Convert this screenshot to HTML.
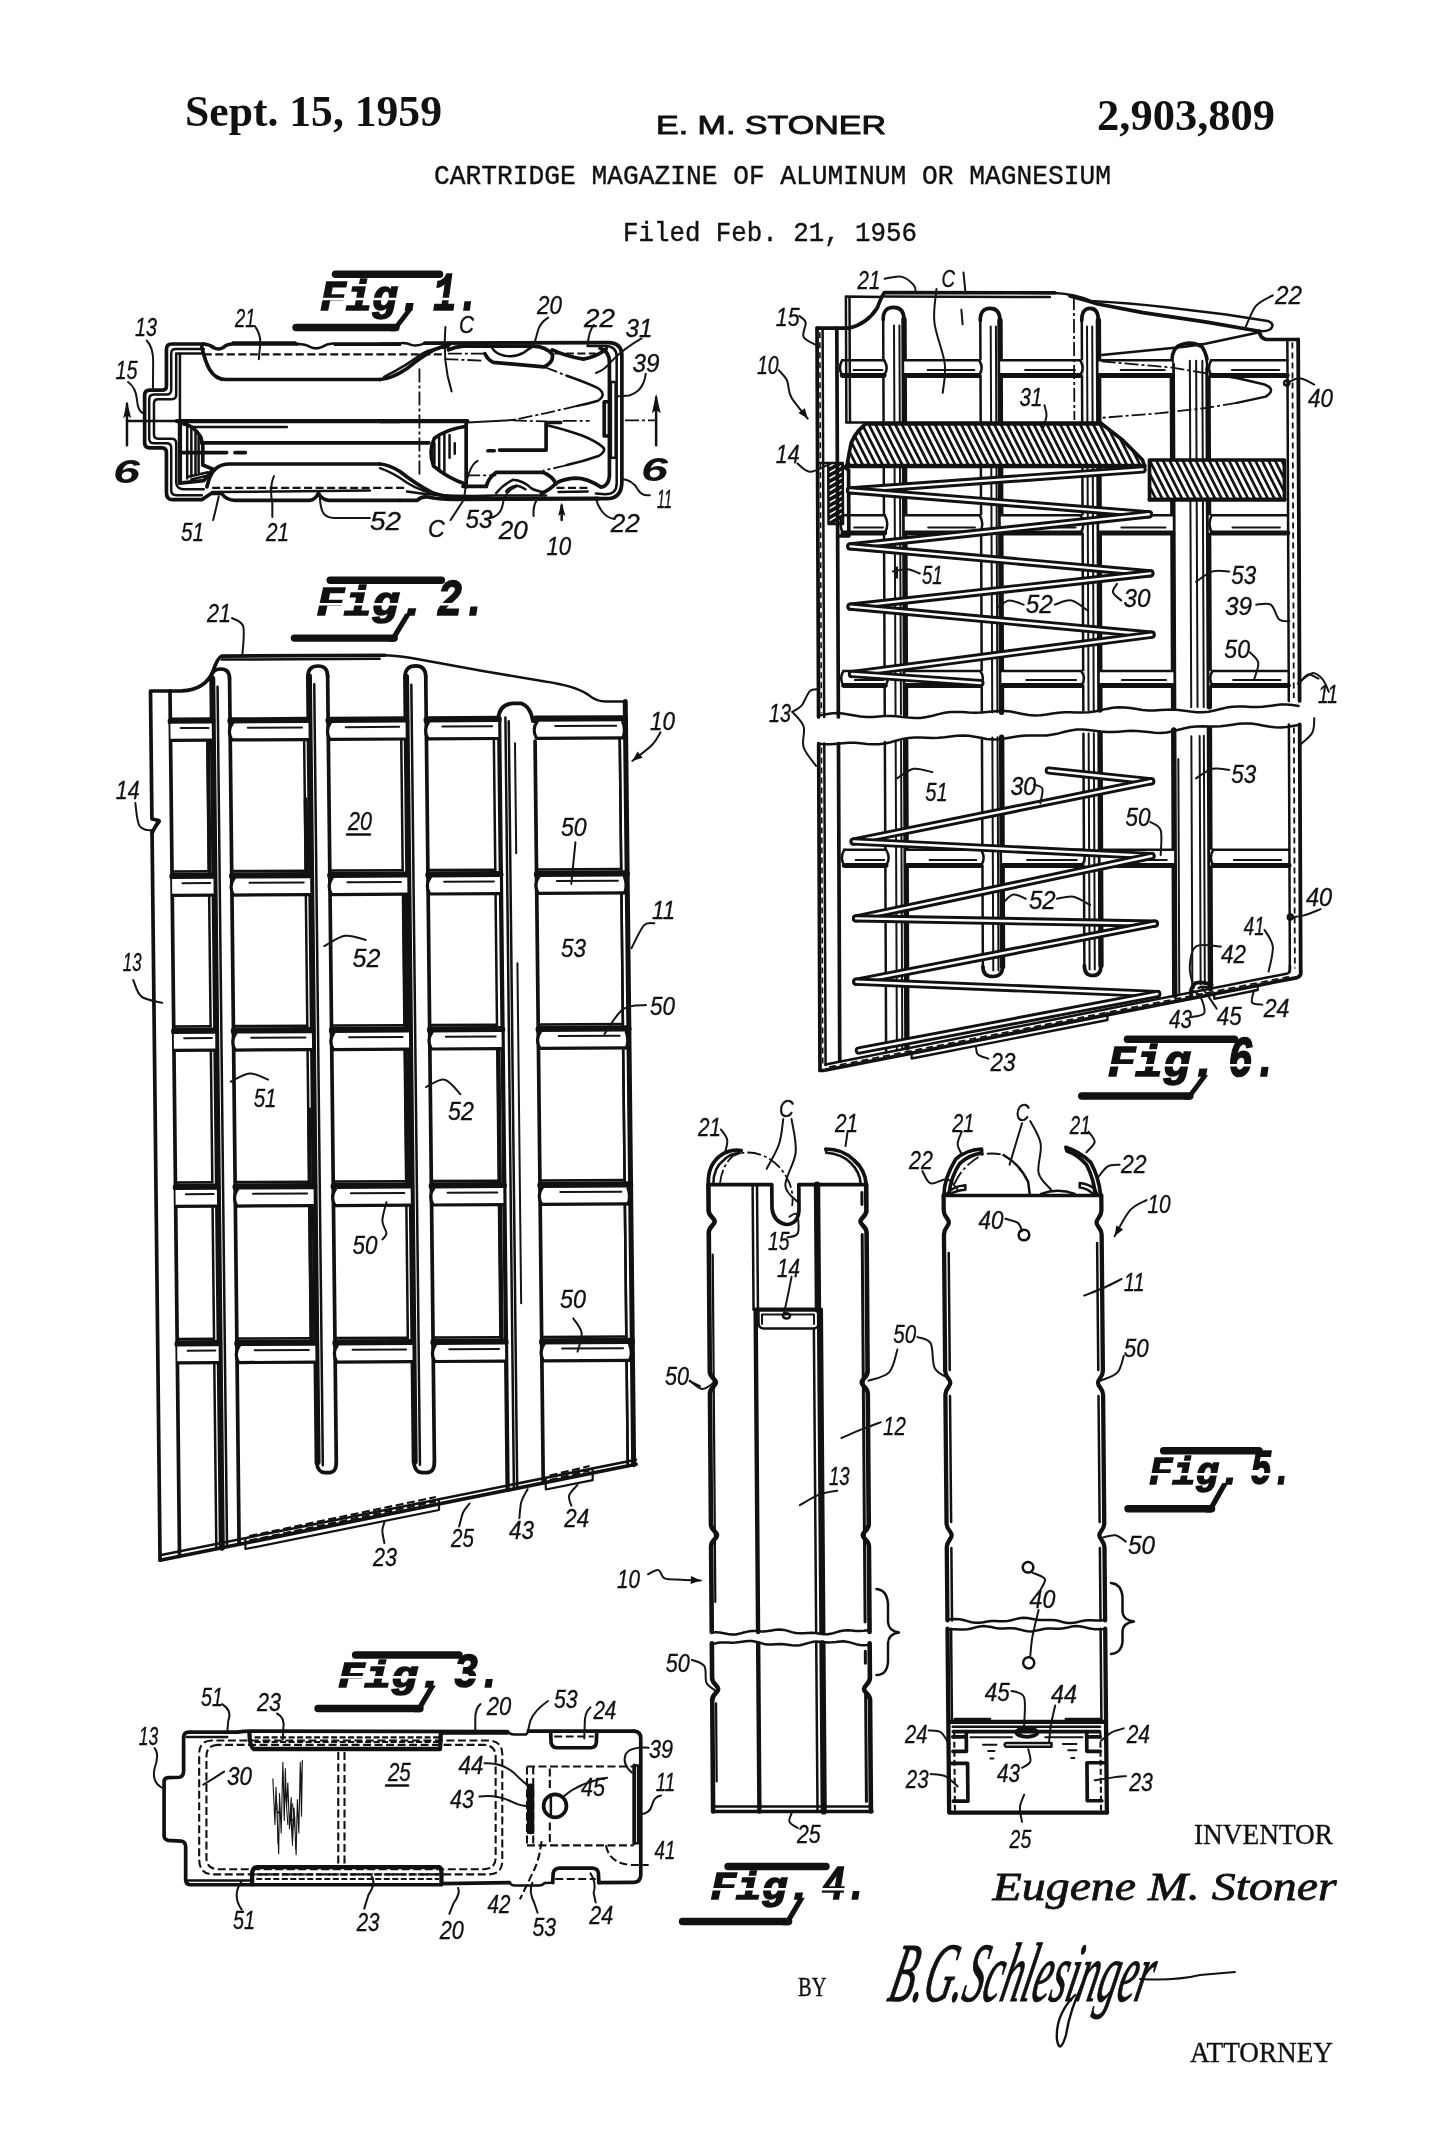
<!DOCTYPE html>
<html><head><meta charset="utf-8"><title>Patent 2,903,809</title>
<style>
html,body{margin:0;padding:0;background:#fff;}
svg{display:block;filter:grayscale(1)}
path,line,circle,ellipse,polyline{vector-effect:non-scaling-stroke}
.l{fill:none;stroke:#111;stroke-width:2.5;stroke-linecap:round;stroke-linejoin:round}
.t{fill:none;stroke:#111;stroke-width:3.7;stroke-linecap:round;stroke-linejoin:round}
.h{fill:none;stroke:#111;stroke-width:4.3;stroke-linecap:round;stroke-linejoin:round}
.f{fill:none;stroke:#151515;stroke-width:2.0;stroke-linecap:round;stroke-linejoin:round}
.d{fill:none;stroke:#111;stroke-width:2.1;stroke-dasharray:8 3.5}
.dd{fill:none;stroke:#111;stroke-width:1.8;stroke-dasharray:14 3 3 3}
.n{font-family:"Liberation Sans",sans-serif;font-style:italic;font-size:21px;fill:#111;stroke:#111;stroke-width:0.35px}
.fg{font-family:"Liberation Mono",monospace;font-style:italic;font-weight:bold;font-size:44px;fill:#111}
.b{fill:#111;stroke:none}
</style></head><body>
<svg width="1445" height="2145" viewBox="0 0 1445 2145">
<rect width="1445" height="2145" fill="#fff"/>
<g id="header" fill="#111">
<text x="185" y="126" font-family="'Liberation Serif',serif" font-weight="bold" font-size="45" textLength="257" lengthAdjust="spacingAndGlyphs">Sept. 15, 1959</text>
<text x="656" y="134" font-family="'Liberation Sans',sans-serif" font-size="25.5" textLength="230" lengthAdjust="spacingAndGlyphs" stroke="#111" stroke-width="0.9">E. M. STONER</text>
<text x="1097" y="129.500" font-family="'Liberation Serif',serif" font-weight="bold" font-size="45" textLength="178" lengthAdjust="spacingAndGlyphs">2,903,809</text>
<text x="434" y="184" font-family="'Liberation Mono',monospace" font-size="27" textLength="677" lengthAdjust="spacingAndGlyphs" stroke="#111" stroke-width="0.4">CARTRIDGE MAGAZINE OF ALUMINUM OR MAGNESIUM</text>
<text x="623" y="240.500" font-family="'Liberation Mono',monospace" font-size="27" textLength="294" lengthAdjust="spacingAndGlyphs" stroke="#111" stroke-width="0.4">Filed Feb. 21, 1956</text>
</g>

<g id="fig1">
<!-- left part, zoom coords Z1 -->
<g transform="translate(100,300) scale(0.207612)">
<path class="t" d="M500 212 L345 212 Q320 212 320 238 L320 415 Q320 434 298 434 L240 434 Q215 434 215 458 L215 688 Q215 712 240 712 L298 712 Q320 712 320 735 L320 928 Q320 962 352 962 L490 962 L535 932 L585 932 Q610 965 650 965 L1010 965 Q1040 960 1052 930 Q1065 960 1100 965 L1445 965"/>
<path class="t" d="M500 212 Q530 215 548 230 Q570 242 592 230 Q612 212 640 212 L950 212"/>
<path class="l" d="M950 212 Q990 212 1012 226 Q1040 240 1070 226 Q1092 212 1120 210 L1445 210"/>
<path class="l" d="M640 205 L940 205 M1130 216 L1445 216"/>
<path class="l" d="M500 236 L365 236 Q343 236 343 258 L343 432 Q343 455 320 455 L260 455 Q237 455 237 478 L237 668 Q237 690 260 690 L320 690 Q343 690 343 712 L343 915 Q343 940 368 940 L490 940"/>
<path class="l" d="M490 258 L367 258 L367 458 Q367 478 345 478 L280 478 Q260 478 260 498 L260 648 Q260 668 280 668 L345 668 Q367 668 367 690 L367 880 Q370 910 400 912 L500 912"/>
<path class="l" d="M385 262 L385 590"/>
<path class="h" d="M385 590 L385 882"/>
<path class="t" d="M490 225 C510 310 535 383 605 383 L1349 383"/>
<path class="d" d="M500 262 L1650 262"/>
<path class="l" d="M130 583 L370 583"/>
<path class="h" d="M370 583 L1445 583"/>
<path class="l" d="M440 612 L900 612"/>
<path class="t" d="M490 688 L1584 688"/>
<path class="t" d="M385 735 L610 735 M650 735 L700 735"/>
<path class="t" d="M515 900 C535 810 575 790 625 790 L1349 790"/>
<path class="d" d="M540 905 L1480 905"/>
<path class="l" d="M540 925 L1300 918"/>
<path class="t" d="M385 592 Q450 600 485 660 L495 700 L495 795 L545 815 L500 870 L385 882"/>
<path class="l" d="M420 610 L420 860 M440 620 L440 850 M460 640 L460 840 M475 660 L475 830 M430 850 L520 830 M440 865 L510 848"/>
<!-- arrows / section marks -->
<path class="l" d="M130 500 L130 700"/>
<path class="b" d="M130 488 L112 570 L130 555 L150 570Z"/>
<!-- leaders -->
<path class="f" d="M225 195 Q258 230 256 300 L255 430"/>
<path class="f" d="M135 395 Q172 420 178 480 Q182 540 213 548"/>
<path class="f" d="M745 125 Q780 170 770 230 L765 285"/>
<path class="f" d="M572 945 Q560 1000 545 1060"/>
<path class="f" d="M838 848 Q815 900 830 980 L830 1045"/>
<path class="f" d="M1058 935 Q1060 1000 1075 1025 Q1090 1050 1130 1050 L1300 1050"/>
</g>
<!-- right part Z2 -->
<g transform="translate(380,300) scale(0.207612)">
<path class="l" d="M0 211 L100 208 Q130 206 150 216 Q180 224 215 209"/>
<path class="t" d="M215 208 L1100 205 Q1165 205 1165 270 L1165 875 Q1165 957 1090 957 L1040 957"/>
<path class="h" d="M1050 957 L400 959"/>
<path class="t" d="M96 965 L180 965 Q200 944 230 949 Q300 964 400 959"/>
<path class="l" d="M1000 222 L1085 222 Q1140 222 1140 275 L1140 884 Q1140 936 1085 936 L1040 932"/>
<path class="t" d="M1060 232 Q1105 245 1105 300 L1105 850 Q1100 895 1065 902 Q1000 858 940 858 Q890 860 848 882 Q830 905 777 934"/>
<path class="t" d="M830 240 Q900 272 980 285 Q1050 270 1090 235"/>
<path class="d" d="M840 258 L1040 258 M850 905 L1010 905"/>
<path class="l" d="M860 925 L1000 922"/>
<path class="t" d="M330 240 Q360 225 400 222 L740 222 Q800 225 830 262 Q838 300 790 322 L545 300 Q520 290 505 258"/>
<path class="dd" d="M505 258 L310 258"/>
<path class="l" d="M540 232 Q560 262 600 268 Q650 278 690 255 Q715 235 740 222"/>
<path class="t" d="M512 898 Q520 860 560 830 L785 830 Q832 850 848 886"/>
<path class="t" d="M400 898 L512 898"/>
<path class="l" d="M560 930 Q592 890 640 866 Q690 870 728 906 Q750 920 790 925"/>
<path class="l" d="M608 922 Q624 900 656 894 Q680 898 700 912"/>
<path class="l" d="M130 922 Q300 950 560 942 L800 942"/>
<!-- cartridges -->
<path class="dd" d="M190 330 L190 850"/>
<path class="dd" d="M310 285 L500 292"/>
<path class="dd" d="M790 322 L900 365"/>
<path class="l" d="M900 365 Q1000 400 1050 425 Q1095 455 1050 485 Q1000 500 950 510"/>
<path class="dd" d="M950 510 L800 545 L640 578"/>
<path class="f" d="M420 590 L640 578"/>
<path class="t" d="M415 608 Q320 622 262 666 Q232 730 258 800 Q330 860 415 888"/>
<path class="t" d="M415 590 L415 900"/>
<path class="l" d="M262 690 L262 790 M285 660 L285 820 M310 645 L310 840 M335 650 L335 760 M360 690 L360 740"/>
<path class="t" d="M576 723 L800 723 L800 590 L870 590"/>
<path class="t" d="M520 726 L550 726"/>
<path class="l" d="M800 602 Q900 626 976 654 Q1040 680 1073 708 Q1092 726 1056 750 Q976 778 900 795"/>
<path class="dd" d="M900 795 L785 822"/>
<path class="dd" d="M415 845 L560 845"/>
<path class="f" d="M315 130 Q300 300 345 440"/>
<path class="f" d="M470 775 Q420 800 405 960 L340 1060"/>
<!-- centerline -->
<path class="h" d="M0 583 L420 583"/>
<path class="dd" d="M640 580 L800 585 M880 582 L1010 582"/>
<path class="dd" d="M1180 580 L1330 580"/>
<!-- 39 -->
<path class="l" d="M1112 395 L1135 395 L1135 760 L1112 760 Z"/>
<path class="t" d="M1100 490 L1080 490 L1080 655 L1100 655"/>
<path class="l" d="M1112 560 Q1095 575 1112 592"/>
<!-- lip 21 lower diag -->
<path class="t" d="M0 790 Q40 792 96 826 Q176 890 256 930 Q330 955 400 955"/>
<path class="l" d="M0 810 Q60 830 130 880 Q200 925 300 940"/>
<path class="t" d="M0 383 Q60 378 130 330 Q200 272 260 240 Q300 222 335 214"/>
<path class="l" d="M20 370 Q120 320 200 260 Q260 228 330 228"/>
<!-- arrow right -->
<path class="l" d="M1330 470 L1330 700"/>
<path class="b" d="M1330 452 L1310 545 L1330 530 L1352 545Z"/>
<!-- leaders -->
<path class="f" d="M810 85 Q770 110 760 150 L745 205"/>
<path class="f" d="M1030 120 Q1005 150 1000 222"/>
<path class="f" d="M1260 185 Q1180 230 1120 290 Q1080 340 1040 352"/>
<path class="f" d="M1280 355 Q1270 440 1200 460 L1135 465"/>
<path class="f" d="M1168 862 Q1220 870 1240 910 Q1260 945 1300 940"/>
<path class="f" d="M1040 955 Q1050 1000 1080 1030 Q1100 1050 1130 1055"/>
<path class="f" d="M740 1040 Q735 990 760 955"/>
<path class="f" d="M530 1050 Q580 1040 590 990 Q600 920 655 900"/>
<path class="l" d="M875 1060 L875 990"/>
<path class="b" d="M875 975 L858 1040 L875 1028 L893 1040Z"/>
</g>
</g>

<g id="fig2">
<g transform="matrix(1,-0.0054,0.011,1,-7.6,0.81)">
<path class="t" d="M150.5 1560.2 L150.5 691 L182 691 Q205 690 213 672 Q218 658 222 656.5 L385 656.5"/>
<path class="l" d="M385 656.5 Q400 657 420 661 L483 672.9 L545 683.6 Q575 688 588 697 Q596 704 606 704 L625 704"/>
<path class="l" d="M222 660 L380 660"/>
<path d="M146 818 L158 818 L158 830 L146 830Z" fill="#fff" stroke="none"/>
<path class="t" d="M150.5 819 L157.5 820.5 L152.5 829 L150.6 833"/>
<path class="h" d="M625.1 704 L625.1 1467.3" style="stroke-width:5"/>
<path class="l" d="M619.2 722 L619.2 1468.5"/>
<path class="t" d="M170 691 L170 1556.4"/>
<path class="h" d="M212.4 679.0 L212.4 1548.1" style="stroke-width:6"/>
<path class="l" d="M217.6 687.0 L217.6 1547.1"/>
<path class="t" d="M229.7 679.0 L229.7 1544.7"/>
<path class="t" d="M211.4 679.0 Q211.4 669.4 221.05 669.4 Q229.7 669.4 229.7 679.0"/>
<path class="h" d="M309.1 677.2 L309.1 1463.2" style="stroke-width:6"/>
<path class="l" d="M314.3 685.2 L314.3 1466.2"/>
<path class="t" d="M327.8 677.2 L327.8 1463.2"/>
<path class="t" d="M308.1 677.2 Q308.1 666.9 318.45000000000005 666.9 Q327.8 666.9 327.8 677.2"/>
<path class="t" d="M308.1 1463.2 Q309.1 1473.5 316.45000000000005 1473.5 L320.45000000000005 1473.5 Q327.8 1473.5 327.8 1463.2"/>
<path class="h" d="M406.2 678.2 L406.2 1463.2" style="stroke-width:6"/>
<path class="l" d="M411.4 686.2 L411.4 1466.2"/>
<path class="t" d="M425.9 678.2 L425.9 1463.2"/>
<path class="t" d="M405.2 678.2 Q405.2 667.4 416.04999999999995 667.4 Q425.9 667.4 425.9 678.2"/>
<path class="t" d="M405.2 1463.2 Q406.2 1474 414.04999999999995 1474 L418.04999999999995 1474 Q425.9 1474 425.9 1463.2"/>
<path class="h" d="M498.8 721.3 L498.8 1492.0"/>
<path class="l" d="M505.1 719.3 L505.1 1490.8"/>
<path class="l" d="M508.40000000000003 723.3 L508.40000000000003 1490.2"/>
<path class="f" d="M514.4 745.3 L514.4 855.3 M514.4 965.3 L514.4 1305.3"/>
<path class="t" d="M534.5 743.3 L534.5 1485.0"/>
<path class="t" d="M497.8 721.3 Q498.8 706.3 512.65 705.3 L520.65 705.3 Q530.5 708.3 532.5 723.3"/>
<path class="h" d="M171 721.4 L211.4 721.4" style="stroke-width:7.4"/>
<path d="M170 723.9 L170 740.4 L211.4 740.4 L211.4 723.9 Z" fill="#fff" stroke="none"/>
<path class="t" d="M170 740.4 L211.4 740.4" style="stroke-width:3.2"/>
<path class="f" d="M180.3 728.1999999999999 L208.1 728.1999999999999"/>
<path class="l" d="M171 871.5 L206.9 871.5"/>
<path class="l" d="M206.9 741.4 L206.9 871.5"/>
<path class="h" d="M171 876.5 L211.4 876.5" style="stroke-width:7.4"/>
<path d="M170 879.0 L170 895.5 L211.4 895.5 L211.4 879.0 Z" fill="#fff" stroke="none"/>
<path class="t" d="M170 895.5 L211.4 895.5" style="stroke-width:3.2"/>
<path class="f" d="M180.3 883.3 L208.1 883.3"/>
<path class="l" d="M171 1026.5 L206.9 1026.5"/>
<path class="l" d="M206.9 896.5 L206.9 1026.5"/>
<path class="h" d="M171 1031.5 L211.4 1031.5" style="stroke-width:7.4"/>
<path d="M170 1034.0 L170 1050.5 L211.4 1050.5 L211.4 1034.0 Z" fill="#fff" stroke="none"/>
<path class="t" d="M170 1050.5 L211.4 1050.5" style="stroke-width:3.2"/>
<path class="f" d="M180.3 1038.3 L208.1 1038.3"/>
<path class="l" d="M171 1182.5 L206.9 1182.5"/>
<path class="l" d="M206.9 1051.5 L206.9 1182.5"/>
<path class="h" d="M171 1187.5 L211.4 1187.5" style="stroke-width:7.4"/>
<path d="M170 1190.0 L170 1206.5 L211.4 1206.5 L211.4 1190.0 Z" fill="#fff" stroke="none"/>
<path class="t" d="M170 1206.5 L211.4 1206.5" style="stroke-width:3.2"/>
<path class="f" d="M180.3 1194.3 L208.1 1194.3"/>
<path class="l" d="M171 1339.0 L206.9 1339.0"/>
<path class="l" d="M206.9 1207.5 L206.9 1339.0"/>
<path class="h" d="M171 1344.0 L211.4 1344.0" style="stroke-width:7.4"/>
<path d="M170 1346.5 L170 1363.0 L211.4 1363.0 L211.4 1346.5 Z" fill="#fff" stroke="none"/>
<path class="t" d="M170 1363.0 L211.4 1363.0" style="stroke-width:3.2"/>
<path class="f" d="M180.3 1350.8 L208.1 1350.8"/>
<path class="l" d="M206.9 1364.0 L206.9 1549.2"/>
<path class="h" d="M230.7 721.4 L308.1 721.4" style="stroke-width:7.4"/>
<path d="M231.2 723.9 Q226.2 731.4 231.2 740.4 L308.1 740.4 L308.1 723.9 Z" fill="#fff" stroke="none"/>
<path class="t" d="M232.2 723.4 Q226.2 731.4 231.2 740.4 L308.1 740.4" style="stroke-width:3.2"/>
<path class="f" d="M247.4 728.1999999999999 L301.6 728.1999999999999"/>
<path class="l" d="M230.7 871.5 L303.6 871.5"/>
<path class="l" d="M303.6 741.4 L303.6 871.5"/>
<path class="h" d="M230.7 876.5 L308.1 876.5" style="stroke-width:7.4"/>
<path d="M231.2 879.0 Q226.2 886.5 231.2 895.5 L308.1 895.5 L308.1 879.0 Z" fill="#fff" stroke="none"/>
<path class="t" d="M232.2 878.5 Q226.2 886.5 231.2 895.5 L308.1 895.5" style="stroke-width:3.2"/>
<path class="f" d="M247.4 883.3 L301.6 883.3"/>
<path class="l" d="M230.7 1026.5 L303.6 1026.5"/>
<path class="l" d="M303.6 896.5 L303.6 1026.5"/>
<path class="h" d="M230.7 1031.5 L308.1 1031.5" style="stroke-width:7.4"/>
<path d="M231.2 1034.0 Q226.2 1041.5 231.2 1050.5 L308.1 1050.5 L308.1 1034.0 Z" fill="#fff" stroke="none"/>
<path class="t" d="M232.2 1033.5 Q226.2 1041.5 231.2 1050.5 L308.1 1050.5" style="stroke-width:3.2"/>
<path class="f" d="M247.4 1038.3 L301.6 1038.3"/>
<path class="l" d="M230.7 1182.5 L303.6 1182.5"/>
<path class="l" d="M303.6 1051.5 L303.6 1182.5"/>
<path class="h" d="M230.7 1187.5 L308.1 1187.5" style="stroke-width:7.4"/>
<path d="M231.2 1190.0 Q226.2 1197.5 231.2 1206.5 L308.1 1206.5 L308.1 1190.0 Z" fill="#fff" stroke="none"/>
<path class="t" d="M232.2 1189.5 Q226.2 1197.5 231.2 1206.5 L308.1 1206.5" style="stroke-width:3.2"/>
<path class="f" d="M247.4 1194.3 L301.6 1194.3"/>
<path class="l" d="M230.7 1339.0 L303.6 1339.0"/>
<path class="l" d="M303.6 1207.5 L303.6 1339.0"/>
<path class="h" d="M230.7 1344.0 L308.1 1344.0" style="stroke-width:7.4"/>
<path d="M231.2 1346.5 Q226.2 1354.0 231.2 1363.0 L308.1 1363.0 L308.1 1346.5 Z" fill="#fff" stroke="none"/>
<path class="t" d="M232.2 1346.0 Q226.2 1354.0 231.2 1363.0 L308.1 1363.0" style="stroke-width:3.2"/>
<path class="f" d="M247.4 1350.8 L301.6 1350.8"/>
<path class="h" d="M328.8 721.4 L405.2 721.4" style="stroke-width:7.4"/>
<path d="M329.3 723.9 Q324.3 731.4 329.3 740.4 L405.2 740.4 L405.2 723.9 Z" fill="#fff" stroke="none"/>
<path class="t" d="M330.3 723.4 Q324.3 731.4 329.3 740.4 L405.2 740.4" style="stroke-width:3.2"/>
<path class="f" d="M345.3 728.1999999999999 L398.8 728.1999999999999"/>
<path class="l" d="M328.8 871.5 L400.7 871.5"/>
<path class="l" d="M400.7 741.4 L400.7 871.5"/>
<path class="h" d="M328.8 876.5 L405.2 876.5" style="stroke-width:7.4"/>
<path d="M329.3 879.0 Q324.3 886.5 329.3 895.5 L405.2 895.5 L405.2 879.0 Z" fill="#fff" stroke="none"/>
<path class="t" d="M330.3 878.5 Q324.3 886.5 329.3 895.5 L405.2 895.5" style="stroke-width:3.2"/>
<path class="f" d="M345.3 883.3 L398.8 883.3"/>
<path class="l" d="M328.8 1026.5 L400.7 1026.5"/>
<path class="l" d="M400.7 896.5 L400.7 1026.5"/>
<path class="h" d="M328.8 1031.5 L405.2 1031.5" style="stroke-width:7.4"/>
<path d="M329.3 1034.0 Q324.3 1041.5 329.3 1050.5 L405.2 1050.5 L405.2 1034.0 Z" fill="#fff" stroke="none"/>
<path class="t" d="M330.3 1033.5 Q324.3 1041.5 329.3 1050.5 L405.2 1050.5" style="stroke-width:3.2"/>
<path class="f" d="M345.3 1038.3 L398.8 1038.3"/>
<path class="l" d="M328.8 1182.5 L400.7 1182.5"/>
<path class="l" d="M400.7 1051.5 L400.7 1182.5"/>
<path class="h" d="M328.8 1187.5 L405.2 1187.5" style="stroke-width:7.4"/>
<path d="M329.3 1190.0 Q324.3 1197.5 329.3 1206.5 L405.2 1206.5 L405.2 1190.0 Z" fill="#fff" stroke="none"/>
<path class="t" d="M330.3 1189.5 Q324.3 1197.5 329.3 1206.5 L405.2 1206.5" style="stroke-width:3.2"/>
<path class="f" d="M345.3 1194.3 L398.8 1194.3"/>
<path class="l" d="M328.8 1339.0 L400.7 1339.0"/>
<path class="l" d="M400.7 1207.5 L400.7 1339.0"/>
<path class="h" d="M328.8 1344.0 L405.2 1344.0" style="stroke-width:7.4"/>
<path d="M329.3 1346.5 Q324.3 1354.0 329.3 1363.0 L405.2 1363.0 L405.2 1346.5 Z" fill="#fff" stroke="none"/>
<path class="t" d="M330.3 1346.0 Q324.3 1354.0 329.3 1363.0 L405.2 1363.0" style="stroke-width:3.2"/>
<path class="f" d="M345.3 1350.8 L398.8 1350.8"/>
<path class="h" d="M426.9 721.4 L497.8 721.4" style="stroke-width:7.4"/>
<path d="M427.4 723.9 Q422.4 731.4 427.4 740.4 L497.8 740.4 L497.8 723.9 Z" fill="#fff" stroke="none"/>
<path class="t" d="M428.4 723.4 Q422.4 731.4 427.4 740.4 L497.8 740.4" style="stroke-width:3.2"/>
<path class="f" d="M442.0 728.1999999999999 L491.8 728.1999999999999"/>
<path class="l" d="M426.9 871.5 L493.3 871.5"/>
<path class="l" d="M493.3 741.4 L493.3 871.5"/>
<path class="h" d="M426.9 876.5 L497.8 876.5" style="stroke-width:7.4"/>
<path d="M427.4 879.0 Q422.4 886.5 427.4 895.5 L497.8 895.5 L497.8 879.0 Z" fill="#fff" stroke="none"/>
<path class="t" d="M428.4 878.5 Q422.4 886.5 427.4 895.5 L497.8 895.5" style="stroke-width:3.2"/>
<path class="f" d="M442.0 883.3 L491.8 883.3"/>
<path class="l" d="M426.9 1026.5 L493.3 1026.5"/>
<path class="l" d="M493.3 896.5 L493.3 1026.5"/>
<path class="h" d="M426.9 1031.5 L497.8 1031.5" style="stroke-width:7.4"/>
<path d="M427.4 1034.0 Q422.4 1041.5 427.4 1050.5 L497.8 1050.5 L497.8 1034.0 Z" fill="#fff" stroke="none"/>
<path class="t" d="M428.4 1033.5 Q422.4 1041.5 427.4 1050.5 L497.8 1050.5" style="stroke-width:3.2"/>
<path class="f" d="M442.0 1038.3 L491.8 1038.3"/>
<path class="l" d="M426.9 1182.5 L493.3 1182.5"/>
<path class="l" d="M493.3 1051.5 L493.3 1182.5"/>
<path class="h" d="M426.9 1187.5 L497.8 1187.5" style="stroke-width:7.4"/>
<path d="M427.4 1190.0 Q422.4 1197.5 427.4 1206.5 L497.8 1206.5 L497.8 1190.0 Z" fill="#fff" stroke="none"/>
<path class="t" d="M428.4 1189.5 Q422.4 1197.5 427.4 1206.5 L497.8 1206.5" style="stroke-width:3.2"/>
<path class="f" d="M442.0 1194.3 L491.8 1194.3"/>
<path class="l" d="M426.9 1339.0 L493.3 1339.0"/>
<path class="l" d="M493.3 1207.5 L493.3 1339.0"/>
<path class="h" d="M426.9 1344.0 L497.8 1344.0" style="stroke-width:7.4"/>
<path d="M427.4 1346.5 Q422.4 1354.0 427.4 1363.0 L497.8 1363.0 L497.8 1346.5 Z" fill="#fff" stroke="none"/>
<path class="t" d="M428.4 1346.0 Q422.4 1354.0 427.4 1363.0 L497.8 1363.0" style="stroke-width:3.2"/>
<path class="f" d="M442.0 1350.8 L491.8 1350.8"/>
<path class="h" d="M535.5 721.4 L624.1 721.4" style="stroke-width:7.4"/>
<path d="M536.0 723.9 Q531.0 731.4 536.0 740.4 L623.1 740.4 L623.1 723.9 Z" fill="#fff" stroke="none"/>
<path class="t" d="M537.0 723.4 Q531.0 731.4 536.0 740.4 L623.1 740.4" style="stroke-width:3.2"/>
<path class="l" d="M622.1 724.4 Q625.1 732.4 622.1 740.4"/>
<path class="f" d="M554.8 728.1999999999999 L615.8 728.1999999999999"/>
<path class="l" d="M535.5 871.5 L619.2 871.5"/>
<path class="l" d="M619.2 741.4 L619.2 871.5"/>
<path class="h" d="M535.5 876.5 L624.1 876.5" style="stroke-width:7.4"/>
<path d="M536.0 879.0 Q531.0 886.5 536.0 895.5 L623.1 895.5 L623.1 879.0 Z" fill="#fff" stroke="none"/>
<path class="t" d="M537.0 878.5 Q531.0 886.5 536.0 895.5 L623.1 895.5" style="stroke-width:3.2"/>
<path class="l" d="M622.1 879.5 Q625.1 887.5 622.1 895.5"/>
<path class="f" d="M554.8 883.3 L615.8 883.3"/>
<path class="l" d="M535.5 1026.5 L619.2 1026.5"/>
<path class="l" d="M619.2 896.5 L619.2 1026.5"/>
<path class="h" d="M535.5 1031.5 L624.1 1031.5" style="stroke-width:7.4"/>
<path d="M536.0 1034.0 Q531.0 1041.5 536.0 1050.5 L623.1 1050.5 L623.1 1034.0 Z" fill="#fff" stroke="none"/>
<path class="t" d="M537.0 1033.5 Q531.0 1041.5 536.0 1050.5 L623.1 1050.5" style="stroke-width:3.2"/>
<path class="l" d="M622.1 1034.5 Q625.1 1042.5 622.1 1050.5"/>
<path class="f" d="M554.8 1038.3 L615.8 1038.3"/>
<path class="l" d="M535.5 1182.5 L619.2 1182.5"/>
<path class="l" d="M619.2 1051.5 L619.2 1182.5"/>
<path class="h" d="M535.5 1187.5 L624.1 1187.5" style="stroke-width:7.4"/>
<path d="M536.0 1190.0 Q531.0 1197.5 536.0 1206.5 L623.1 1206.5 L623.1 1190.0 Z" fill="#fff" stroke="none"/>
<path class="t" d="M537.0 1189.5 Q531.0 1197.5 536.0 1206.5 L623.1 1206.5" style="stroke-width:3.2"/>
<path class="l" d="M622.1 1190.5 Q625.1 1198.5 622.1 1206.5"/>
<path class="f" d="M554.8 1194.3 L615.8 1194.3"/>
<path class="l" d="M535.5 1339.0 L619.2 1339.0"/>
<path class="l" d="M619.2 1207.5 L619.2 1339.0"/>
<path class="h" d="M535.5 1344.0 L624.1 1344.0" style="stroke-width:7.4"/>
<path d="M536.0 1346.5 Q531.0 1354.0 536.0 1363.0 L623.1 1363.0 L623.1 1346.5 Z" fill="#fff" stroke="none"/>
<path class="t" d="M537.0 1346.0 Q531.0 1354.0 536.0 1363.0 L623.1 1363.0" style="stroke-width:3.2"/>
<path class="l" d="M622.1 1347.0 Q625.1 1355.0 622.1 1363.0"/>
<path class="f" d="M554.8 1350.8 L615.8 1350.8"/>
<path class="l" d="M619.2 1364.0 L619.2 1468.5"/>
<path class="t" d="M304.5 1110 L304.5 1183" style="stroke-width:4"/>
<path class="t" d="M304.5 800 L304.5 872" style="stroke-width:4"/>
<path class="t" d="M207.5 742 L207.5 872" style="stroke-width:4"/>
<path class="t" d="M401.8 1052 L401.8 1183" style="stroke-width:4"/>
<path class="t" d="M494.5 1208 L494.5 1340" style="stroke-width:4"/>
<path class="t" d="M494.5 1052 L494.5 1183" style="stroke-width:4"/>
<path class="t" d="M401.8 897 L401.8 1027" style="stroke-width:4"/>
<path class="t" d="M304.5 1208 L304.5 1340" style="stroke-width:4"/>
<path class="t" d="M150.5 1560.2 L627.5 1466.8"/>
<path class="l" d="M150.5 1555.2 L627.5 1462.3"/>
<path class="t" d="M236 1539.5 L236 1549.5 L430 1511.5 L430 1501.5" style="stroke-width:2.2"/>
<path class="d" d="M240 1536.5 L427 1498.5"/>
<path class="d" d="M240 1541.0 L427 1503.0"/>
<path class="t" d="M537 1480.6 L537 1491.6 L584 1482.4 L584 1471.4" style="stroke-width:2.2"/>
<path class="d" d="M541 1477.6 L581 1468.4"/>
<path class="d" d="M541 1482.1 L581 1472.9"/>
</g>
</g>

<g id="fig3">
<g transform="translate(140,1700) scale(0.207612)">
<!-- outer outline (in T3a coords; T3b px = T3a px - 1348.8) -->
<path class="t" d="M2380 150 Q2412 152 2412 185 L2412 845 Q2410 878 2380 878 L2210 880 M1452 884 L1780 880 M1450 890 L240 890 Q222 888 220 868 L220 705 Q218 682 198 680 L135 676 Q117 672 116 655 L116 392 Q117 376 135 374 L190 372 Q208 368 210 345 L210 178 Q212 156 235 155 L470 155"/>
<path class="t" d="M470 155 Q500 150 530 150 L1770 152 M1870 150 L2380 150"/>
<path class="l" d="M1770 152 Q1782 165 1800 166 L1860 166 Q1868 152 1880 150"/>
<path class="l" d="M1780 880 Q1790 893 1805 893 L1925 893 Q1940 892 1948 882 L1990 880"/>
<path class="l" d="M232 870 L540 870 M225 178 L420 178"/>
<!-- tab 23 top -->
<path class="h" d="M527 158 Q528 225 548 236 L1445 236 Q1448 200 1449 158"/>
<path class="d" style="stroke-dasharray:6 2.5" d="M552 180 L1440 180 M552 202 L1440 202"/>
<!-- tab 23 bottom -->
<path class="h" d="M540 888 L540 830 Q545 806 565 805 L1440 805 Q1452 808 1452 830 L1452 888"/>
<path class="d" style="stroke-dasharray:6 2.5" d="M560 840 L1440 840 M560 862 L1440 862"/>
<path class="t" d="M1450 158 L1770 158"/>
<!-- dashed spring outline 30 -->
<path class="d" d="M345 195 Q285 197 285 260 L285 770 Q287 838 350 840 L1680 840 Q1745 838 1745 775 L1745 260 Q1743 197 1680 195 Z"/>
<path class="d" d="M375 216 Q320 218 320 270 L320 762 Q322 814 375 815 L1655 815 Q1712 814 1713 762 L1713 270 Q1712 218 1655 216 Z"/>
<path class="d" d="M955 250 L955 800 M985 250 L985 800"/>
<!-- scribble -->
<path class="f" style="stroke-width:1.1" d="M640 380 L650 600 L655 420 L668 740 L672 450 L680 640 L688 300 L695 580 L700 330 L706 520 L712 400 L720 620 L728 470 L735 680 L742 520 L752 745 L758 480 L765 640 L772 300 L778 560 L782 290 L776 420 M660 500 L664 690 M690 350 L694 560 M725 540 L735 700 M745 560 L750 720 M700 430 L712 600 M735 500 L748 640 M655 520 L676 560 M725 560 L745 590"/>
<!-- 30 leader -->
<path class="f" d="M405 345 Q360 375 305 408"/>
<!-- dashed rect 41 -->
<path class="d" d="M1864 320 L2378 320 M1864 700 L2378 700 M1864 320 L1864 700 M1894 320 L1894 700 M1974 330 L1974 440 M1974 590 L1974 700"/>
<path class="h" d="M1881 410 L1881 640" style="stroke-width:3.4"/>
<path class="l" d="M1869 410 L1893 410 L1893 640 L1869 640Z"/>
<circle cx="1999" cy="510" r="55" class="t"/>
<path class="l" d="M1979 462 L1979 558"/>
<path class="l" d="M2379 315 L2400 315 L2400 690 L2379 690Z"/>
<path class="t" d="M2381 315 L2381 690"/>
<!-- tabs 24 -->
<path class="t" d="M1978 155 L1980 205 Q1985 230 2010 230 L2170 230 Q2196 228 2198 205 L2200 155"/>
<path class="d" d="M1995 176 L2185 176"/>
<path class="t" d="M1988 880 L1990 835 Q1995 810 2020 810 L2180 810 Q2206 812 2208 835 L2210 880"/>
<path class="d" d="M2000 862 L2195 862"/>
<!-- 41 dashed arc, 42 dashed line -->
<path class="d" d="M2244 700 Q2262 790 2370 795 L2450 795"/>
<path class="d" d="M1934 680 Q1925 760 1900 815 L1830 960"/>
<!-- leaders -->
<path class="f" d="M70 232 Q95 260 70 330 Q55 400 112 425"/>
<path class="f" d="M395 20 Q445 50 425 100 L420 160"/>
<path class="f" d="M660 65 Q700 85 690 140 L688 190"/>
<path class="f" d="M1640 20 Q1615 40 1615 90 L1615 150"/>
<path class="f" d="M1965 5 Q1900 50 1880 100 Q1872 135 1868 152"/>
<path class="f" d="M2170 35 Q2140 60 2142 120 L2140 185"/>
<path class="f" d="M2450 230 Q2360 225 2340 260 Q2320 310 2370 350"/>
<path class="f" d="M2510 460 Q2475 465 2465 510 Q2455 545 2415 550"/>
<path class="f" d="M1660 305 Q1740 300 1800 350 Q1840 390 1868 412"/>
<path class="f" d="M1635 465 Q1720 455 1790 490 Q1830 510 1868 512"/>
<path class="f" d="M2250 375 Q2120 395 2040 465"/>
<path class="f" d="M492 870 Q440 940 490 1010"/>
<path class="f" d="M1115 850 Q1140 880 1100 940 L1080 1005"/>
<path class="f" d="M1532 905 Q1545 930 1510 980 L1490 1030"/>
<path class="f" d="M1890 880 Q1870 920 1900 980 L1915 1025"/>
<path class="f" d="M2170 835 Q2200 880 2185 930 L2195 975"/>
</g>
</g>

<g id="fig4">
<g transform="matrix(1,0,0.0075,1,-8.88,0)">
<path class="h" d="M708.4 1184.6 L708.4 1210.5 C708.4 1216.5 714.4 1217.7 714.4 1221.5 C714.4 1225.3 708.4 1226.5 708.4 1232.5 L708.4 1371.5 C708.4 1377.5 714.4 1378.7 714.4 1382.5 C714.4 1386.3 708.4 1387.5 708.4 1393.5 L708.4 1524.3 C708.4 1530.3 714.4 1531.5 714.4 1535.3 C714.4 1539.1 708.4 1540.2 708.4 1546.3 L708.4 1632.0" style="stroke-width:4.6"/>
<path class="h" d="M866.2 1184.6 L866.2 1210.5 C866.2 1216.5 860.2 1217.7 860.2 1221.5 C860.2 1225.3 866.2 1226.5 866.2 1232.5 L866.2 1371.5 C866.2 1377.5 860.2 1378.7 860.2 1382.5 C860.2 1386.3 866.2 1387.5 866.2 1393.5 L866.2 1524.3 C866.2 1530.3 860.2 1531.5 860.2 1535.3 C860.2 1539.1 866.2 1540.2 866.2 1546.3 L866.2 1632.0" style="stroke-width:4.6"/>
<path class="l" d="M712.1999999999999 1254.6 L712.1999999999999 1602.0" style="stroke-width:2.2"/>
<path class="l" d="M861.8000000000001 1192.6 L861.8000000000001 1204.6 M861.8000000000001 1234.6 L861.8000000000001 1622.0" style="stroke-width:3"/>
<path class="h" d="M708.4 1643.3 L708.4 1678.0 C708.4 1684.0 714.4 1685.2 714.4 1689.0 C714.4 1692.8 708.4 1694.0 708.4 1700.0 L708.4 1811.5" style="stroke-width:4.6"/>
<path class="h" d="M866.2 1643.3 L866.2 1678.0 C866.2 1684.0 860.2 1685.2 860.2 1689.0 C860.2 1692.8 866.2 1694.0 866.2 1700.0 L866.2 1811.5" style="stroke-width:4.6"/>
<path class="l" d="M712.1999999999999 1703.3 L712.1999999999999 1781.5" style="stroke-width:2.2"/>
<path class="l" d="M861.8000000000001 1651.3 L861.8000000000001 1663.3 M861.8000000000001 1693.3 L861.8000000000001 1801.5" style="stroke-width:3"/>
<path class="t" d="M708.4 1184.6 L771.8 1184.6 L771.8 1208 Q773 1222 786 1224.5 Q798 1224 798.8 1210 L798.8 1184.6 L866.2 1184.6"/>
<path class="l" d="M752.6 1184.6 L752.6 1309.7"/>
<path class="l" d="M757 1184.6 L757 1309.7"/>
<path class="h" d="M817 1184.6 L817 1309.7" style="stroke-width:6.4"/>
<path class="h" d="M754 1309.7 L820 1309.7"/>
<path class="l" d="M757.5 1312 L757.5 1323 Q757.5 1328.5 763 1328.5 L812 1328.5 Q817.5 1328.5 817.5 1323 L817.5 1312"/>
<path class="f" d="M761 1314.5 L813 1314.5 M761 1314.5 L761 1324 M813 1314.5 L813 1324"/>
<ellipse cx="785.5" cy="1315.8" rx="3.6" ry="2.6" class="l"/>
<path class="t" d="M754.7 1312 L754.7 1632" style="stroke-width:4.4"/>
<path class="l" d="M812.8 1329 L812.8 1632"/>
<path class="h" d="M819 1312 L819 1632" style="stroke-width:6.2"/>
<path class="t" d="M754.7 1643.3 L754.7 1811.5" style="stroke-width:4.4"/>
<path class="l" d="M812.8 1643.3 L812.8 1811.5"/>
<path class="h" d="M819 1643.3 L819 1811.5" style="stroke-width:6.2"/>
<path class="t" d="M708.4 1184.6 Q707.4 1166 720 1156 Q730 1148.5 741.5 1150.5"/>
<path class="l" d="M713.4 1183.6 Q713.4 1168 724 1160 Q731 1153 740 1153"/>
<path class="dd" d="M720 1183.5 Q722 1166 733 1156 Q748 1149 764 1156 Q780 1163 788 1180 Q794 1192 792 1206"/>
<path class="t" d="M826 1149 Q843 1149 854 1160 Q865.5 1170 866.2 1184.6"/>
<path class="l" d="M826.5 1152.8 Q842 1154 851 1163 Q860 1172 860.7 1183.6"/>
<path class="l" d="M826 1149 L826.5 1152.8"/>
<path class="l" d="M708.4 1632.3 L712.4 1632.2 L716.4 1632.6 L720.4 1633.3 L724.4 1634.1 L728.4 1634.6 L732.4 1634.4 L736.4 1633.6 L740.4 1632.5 L744.4 1631.6 L748.4 1631.1 L752.4 1631.1 L756.4 1631.4 L760.4 1631.4 L764.4 1631.1 L768.4 1630.4 L772.4 1629.8 L776.4 1629.5 L780.4 1629.9 L784.4 1630.9 L788.4 1632.1 L792.4 1633.0 L796.4 1633.3 L800.4 1633.2 L804.4 1632.9 L808.4 1632.8 L812.4 1633.1 L816.4 1633.7 L820.4 1634.2 L824.4 1634.2 L828.4 1633.6 L832.4 1632.4 L836.4 1631.3 L840.4 1630.5 L844.4 1630.3 L848.4 1630.6 L852.4 1631.0 L856.4 1631.1 L860.4 1630.8 L864.4 1630.3 L866.2 1632.0"/>
<path class="l" d="M708.4 1644.4 L712.4 1643.3 L716.4 1642.6 L720.4 1642.4 L724.4 1642.5 L728.4 1642.7 L732.4 1642.6 L736.4 1642.1 L740.4 1641.4 L744.4 1640.9 L748.4 1641.0 L752.4 1641.7 L756.4 1642.8 L760.4 1643.9 L764.4 1644.5 L768.4 1644.6 L772.4 1644.3 L776.4 1644.1 L780.4 1644.2 L784.4 1644.7 L788.4 1645.3 L792.4 1645.6 L796.4 1645.3 L800.4 1644.3 L804.4 1643.1 L808.4 1642.1 L812.4 1641.6 L816.4 1641.7 L820.4 1642.1 L824.4 1642.4 L828.4 1642.3 L832.4 1641.9 L836.4 1641.4 L840.4 1641.3 L844.4 1641.9 L848.4 1642.9 L852.4 1644.1 L856.4 1645.0 L860.4 1645.3 L864.4 1645.0 L866.2 1643.3"/>
<path class="t" d="M708.4 1811.5 L867.2 1811.5"/>
<path class="l" d="M708.4 1806.5 L866.2 1806.5"/>
</g>
<path class="l" d="M876.5 1589 Q887 1590 888 1604 L888 1622 Q888.5 1631 899 1632.5 Q888.5 1634 888 1643 L888 1662 Q887 1675 876.5 1675"/>
</g>
<g id="fig5">
<g transform="matrix(1,0,0.009,1,-10.76,0)">
<path class="h" d="M943.6 1195.5 L943.6 1210.5 C943.6 1217.1 948.6 1218.3 948.6 1222.5 C948.6 1226.7 943.6 1227.9 943.6 1234.5 L943.6 1370.8 C943.6 1377.4 948.6 1378.6 948.6 1382.8 C948.6 1387.0 943.6 1388.2 943.6 1394.8 L943.6 1523.3 C943.6 1529.9 948.6 1531.1 948.6 1535.3 C948.6 1539.5 943.6 1540.7 943.6 1547.3 L943.6 1620.4"/>
<path class="h" d="M1101.3 1195.5 L1101.3 1210.5 C1101.3 1217.1 1096.3 1218.3 1096.3 1222.5 C1096.3 1226.7 1101.3 1227.9 1101.3 1234.5 L1101.3 1370.8 C1101.3 1377.4 1096.3 1378.6 1096.3 1382.8 C1096.3 1387.0 1101.3 1388.2 1101.3 1394.8 L1101.3 1523.3 C1101.3 1529.9 1096.3 1531.1 1096.3 1535.3 C1096.3 1539.5 1101.3 1540.7 1101.3 1547.3 L1101.3 1620.4"/>
<path class="l" d="M948.2 1253 L948.2 1370 M948.2 1396 L948.2 1522 M948.2 1548 L948.2 1620.4"/>
<path class="l" d="M1096.7 1243 L1096.7 1370 M1096.7 1396 L1096.7 1522 M1096.7 1548 L1096.7 1620.4"/>
<path class="h" d="M943.6 1628.7 L943.6 1812.6"/>
<path class="h" d="M1101.3 1628.7 L1101.3 1812.6"/>
<path class="l" d="M947.2 1628.7 L947.2 1721"/>
<path class="l" d="M1096.7 1628.7 L1096.7 1721"/>
<path class="t" d="M943.6 1195.5 L1101.3 1195.5"/>
<g transform="translate(900,1100) scale(0.207612)">
<path class="t" d="M212 455 Q212 380 270 285 Q320 240 395 236 L395 256 Q340 262 290 305 Q245 370 236 455"/>
<path class="l" d="M225 452 Q250 425 282 416 L315 410 L315 432 Q270 434 240 456"/>
<path class="dd" d="M262 405 Q300 318 400 262 Q450 252 500 265"/>
<path class="l" d="M500 265 Q580 310 618 395 L625 455"/>
<path class="l" d="M680 452 Q760 422 842 452"/>
<path class="t" d="M801 228 L806 246 Q855 262 900 312 Q935 380 940 455 M801 228 Q865 248 920 300 Q958 370 966 455"/>
<path class="l" d="M866 400 L866 421 M866 400 Q912 405 940 430 L951 455 M866 421 Q900 424 931 452"/>
</g>
<circle cx="1023.6" cy="1235" r="5.3" class="l"/>
<circle cx="1024.7" cy="1567.3" r="5.3" class="l"/>
<circle cx="1024.5" cy="1662.8" r="5.6" class="l"/>
<path class="l" d="M943.6 1619.6 L947.6 1619.3 L951.6 1619.1 L955.6 1619.2 L959.6 1620.0 L963.6 1621.1 L967.6 1622.2 L971.6 1622.8 L975.6 1622.8 L979.6 1622.2 L983.6 1621.5 L987.6 1621.0 L991.6 1621.0 L995.6 1621.2 L999.6 1621.3 L1003.6 1621.0 L1007.6 1620.2 L1011.6 1619.1 L1015.6 1618.2 L1019.6 1617.8 L1023.6 1618.1 L1027.6 1618.8 L1031.6 1619.6 L1035.6 1620.1 L1039.6 1620.1 L1043.6 1619.9 L1047.6 1619.9 L1051.6 1620.3 L1055.6 1621.1 L1059.6 1622.2 L1063.6 1622.9 L1067.6 1623.1 L1071.6 1622.5 L1075.6 1621.6 L1079.6 1620.8 L1083.6 1620.3 L1087.6 1620.3 L1091.6 1620.5 L1095.6 1620.5 L1099.6 1620.0 L1101.3 1620.4"/>
<path class="l" d="M943.6 1629.8 L947.6 1629.3 L951.6 1629.3 L955.6 1629.5 L959.6 1629.6 L963.6 1629.3 L967.6 1628.5 L971.6 1627.4 L975.6 1626.5 L979.6 1626.1 L983.6 1626.4 L987.6 1627.1 L991.6 1627.9 L995.6 1628.4 L999.6 1628.4 L1003.6 1628.2 L1007.6 1628.2 L1011.6 1628.6 L1015.6 1629.4 L1019.6 1630.5 L1023.6 1631.2 L1027.6 1631.4 L1031.6 1630.8 L1035.6 1629.9 L1039.6 1629.1 L1043.6 1628.6 L1047.6 1628.6 L1051.6 1628.8 L1055.6 1628.8 L1059.6 1628.3 L1063.6 1627.5 L1067.6 1626.6 L1071.6 1626.0 L1075.6 1626.2 L1079.6 1626.9 L1083.6 1628.0 L1087.6 1628.8 L1091.6 1629.2 L1095.6 1629.2 L1099.6 1629.0 L1101.3 1628.7"/>
<path class="h" d="M944.408345443222 1721.8642308490762 L1100.9373053767906 1721.8642308490762"/>
<path class="l" d="M950.0134938758563 1718.9578575877101 L985.3051691924434 1718.9578575877101 M1061.0784720780568 1718.9578575877101 L1095.3321569441562 1718.9578575877101"/>
<path class="l" d="M947.9375129748806 1726.8465850114178 L1095.3321569441562 1726.8465850114178"/>
<path class="t" d="M948.5603072451734 1731.621341083662 L1094.7093626738633 1731.621341083662"/>
<path class="t" d="M961.4313888312228 1731.621341083662 L961.4313888312228 1751.3431596429314 L947.9375129748806 1751.3431596429314 M947.9375129748806 1736.8112933361012 L961.4313888312228 1736.8112933361012"/>
<path class="t" d="M1081.838281087814 1731.621341083662 L1081.838281087814 1751.3431596429314 L1095.3321569441562 1751.3431596429314 M1095.3321569441562 1736.8112933361012 L1081.838281087814 1736.8112933361012"/>
<path class="t" d="M945.8615320739049 1763.3838488685903 L962.4693792817106 1763.3838488685903 L962.4693792817106 1801.1667012663484 L947.9375129748806 1801.1667012663484"/>
<path class="t" d="M1099.4841187461075 1762.7610545982977 L1081.838281087814 1762.7610545982977 L1081.838281087814 1800.7515050861532 L1096.370147394644 1800.7515050861532"/>
<path class="d" d="M949.3906996055637 1732.65933153415 L949.3906996055637 1810.508615320739" style="stroke-dasharray:6 3"/>
<path class="d" d="M1095.5397550342536 1732.65933153415 L1095.5397550342536 1810.508615320739" style="stroke-dasharray:6 3"/>
<path class="h" d="M944.408345443222 1812.5845962217147 L1101.5600996470832 1812.5845962217147"/>
<ellipse cx="1022.0500311397136" cy="1732.4517334440523" rx="10.5" ry="4.4" class="t" fill="#fff"/>
<path class="l" d="M1015.4068922565913 1732.65933153415 Q1021.6348349595185 1729.5453601826864 1029.9387585634213 1731.621341083662"/>
<path class="l" d="M1046.546605771227 1743.0392360390285 L1000.8750259497613 1743.0392360390285 Q998.3838488685903 1744.9076188499066 1000.8750259497613 1746.7760016607847 L1046.546605771227 1746.7760016607847 Z"/>
<path class="f" d="M978.0392360390284 1744.700020759809 L991.5331118953706 1744.700020759809 M983.2291882914677 1750.9279634627362 L989.4571309943949 1750.9279634627362 M985.3051691924434 1758.6090927963462 L988.419140543907 1758.6090927963462 M1057.9645007265933 1744.0772264895163 L1071.4583765829354 1744.0772264895163 M1063.1544529790326 1750.3051691924434 L1071.4583765829354 1750.3051691924434 M1066.2684243304961 1757.9862985260536 L1069.3823956819597 1757.9862985260536 M965.5833506331742 1737.2264895162964 L1007.1029686526883 1737.2264895162964 M1040.3186630682999 1737.2264895162964 L1077.6863192858625 1737.2264895162964"/>
</g>
<path class="l" d="M1111 1583 Q1121.5 1584 1122.5 1597 L1122.5 1612 Q1123 1620 1134 1621.5 Q1123 1623 1122.5 1631 L1122.5 1642 Q1121.5 1653 1111 1654"/>
</g>

<g id="fig6">
<g transform="matrix(1,0,0.004,1,-1.3,0)">
<path class="l" d="M883.2 319.4 L883.2 714.6"/>
<path class="f" d="M894 325.4 L894 714.4"/>
<path class="f" d="M899.4 325.4 L899.4 714.3"/>
<path class="h" d="M904 319.4 L904 714.2" style="stroke-width:5.4"/>
<path class="t" d="M883.2 319.4 Q883.2 307.4 893.6 307.4 Q904 307.4 904 319.4"/>
<path class="l" d="M980.3 320.4 L980.3 712.6"/>
<path class="f" d="M990.7 326.4 L990.7 712.4"/>
<path class="f" d="M995.9 326.4 L995.9 712.2"/>
<path class="h" d="M1000 320.4 L1000 712.2" style="stroke-width:5.4"/>
<path class="t" d="M980.3 320.4 Q980.3 308.4 990.15 308.4 Q1000 308.4 1000 320.4"/>
<path class="l" d="M1081.8 320.4 L1081.8 710.4"/>
<path class="f" d="M1087 326.4 L1087 710.3"/>
<path class="f" d="M1092.2 326.4 L1092.2 710.2"/>
<path class="h" d="M1098.4 320.4 L1098.4 710.1" style="stroke-width:5.4"/>
<path class="t" d="M1081.8 320.4 Q1081.8 308.4 1090.1 308.4 Q1098.4 308.4 1098.4 320.4"/>
<path class="h" d="M1172.1 364.7 L1172.1 707.5" style="stroke-width:5.4"/>
<path class="f" d="M1189.7 360.7 L1189.7 707.2"/>
<path class="f" d="M1196 360.7 L1196 707.0"/>
<path class="f" d="M1202.2 360.7 L1202.2 706.9"/>
<path class="h" d="M1207.8 368.7 L1207.8 706.8" style="stroke-width:5.4"/>
<path class="t" d="M1172.1 368.7 Q1170.1 352.7 1177.1 346.7 Q1189.9499999999998 339.7 1201.8 346.7 Q1207.8 354.7 1207.8 370.7"/>
<path class="l" d="M883.2 741.9 L883.2 1051.8"/>
<path class="f" d="M894 741.4 L894 1049.7"/>
<path class="f" d="M899.4 741.2 L899.4 1048.6"/>
<path class="h" d="M904 741.0 L904 1047.7" style="stroke-width:5.4"/>
<path class="l" d="M980.3 737.9 L980.3 966.5"/>
<path class="f" d="M990.7 737.5 L990.7 970.5"/>
<path class="f" d="M995.9 737.3 L995.9 970.5"/>
<path class="h" d="M1000 737.1 L1000 966.5" style="stroke-width:5.4"/>
<path class="t" d="M980.3 966.5 Q980.3 976.5 990.15 976.5 Q1000 976.5 1000 966.5"/>
<path class="l" d="M1081.8 733.7 L1081.8 965.5"/>
<path class="f" d="M1087 733.5 L1087 969.5"/>
<path class="f" d="M1092.2 733.3 L1092.2 969.5"/>
<path class="h" d="M1098.4 733.1 L1098.4 965.5" style="stroke-width:5.4"/>
<path class="t" d="M1081.8 965.5 Q1081.8 975.5 1090.1 975.5 Q1098.4 975.5 1098.4 965.5"/>
<path class="h" d="M1172.1 730.0 L1172.1 995.4" style="stroke-width:5.4"/>
<path class="f" d="M1176.6 759.0 L1176.6 993.4"/>
<path class="f" d="M1189.7 736.3 L1189.7 986.0"/>
<path class="f" d="M1198 736.0 L1198 984.4"/>
<path class="f" d="M1202.2 735.8 L1202.2 983.6"/>
<path class="h" d="M1207.8 728.6 L1207.8 988.5" style="stroke-width:5.4"/>
<path d="M839 360.3 L887 360.3 L887 375.5 L839 375.5Z" fill="#fff" stroke="none"/>
<path class="l" d="M842 360.3 L884 360.3"/>
<path class="l" d="M842 360.3 Q837.5 367.9 842 375.5"/>
<path class="l" d="M884 360.3 Q889 367.9 884 375.5"/>
<path class="h" d="M842 375.5 L884 375.5" style="stroke-width:4.8"/>
<path class="f" d="M853.4 370.0 L882.2 370.0"/>
<path d="M904 360.3 L982 360.3 L982 375.5 L904 375.5Z" fill="#fff" stroke="none"/>
<path class="l" d="M904 360.3 L979 360.3"/>
<path class="l" d="M979 360.3 Q984 367.9 979 375.5"/>
<path class="h" d="M904 375.5 L979 375.5" style="stroke-width:4.8"/>
<path class="f" d="M927.4 370.0 L974.2 370.0"/>
<path d="M1000 360.3 L1083 360.3 L1083 375.5 L1000 375.5Z" fill="#fff" stroke="none"/>
<path class="l" d="M1000 360.3 L1080 360.3"/>
<path class="l" d="M1080 360.3 Q1085 367.9 1080 375.5"/>
<path class="h" d="M1000 375.5 L1080 375.5" style="stroke-width:4.8"/>
<path class="f" d="M1024.9 370.0 L1074.7 370.0"/>
<path d="M1098.4 360.3 L1172 360.3 L1172 375.5 L1098.4 375.5Z" fill="#fff" stroke="none"/>
<path class="l" d="M1098.4 360.3 L1172 360.3"/>
<path class="h" d="M1098.4 375.5 L1172 375.5" style="stroke-width:4.8"/>
<path class="f" d="M1120.5 370.0 L1164.6 370.0"/>
<path d="M1208 360.3 L1287 360.3 L1287 375.5 L1208 375.5Z" fill="#fff" stroke="none"/>
<path class="l" d="M1211 360.3 L1287 360.3"/>
<path class="l" d="M1211 360.3 Q1206.5 367.9 1211 375.5"/>
<path class="h" d="M1211 375.5 L1287 375.5" style="stroke-width:4.8"/>
<path class="f" d="M1231.7 370.0 L1279.1 370.0"/>
<path d="M839 515.3 L887 515.3 L887 533 L839 533Z" fill="#fff" stroke="none"/>
<path class="l" d="M842 515.3 L884 515.3"/>
<path class="l" d="M842 515.3 Q837.5 524.15 842 533"/>
<path class="l" d="M884 515.3 Q889 524.15 884 533"/>
<path class="h" d="M842 533 L884 533" style="stroke-width:4.8"/>
<path class="f" d="M853.4 527.5 L882.2 527.5"/>
<path d="M904 515.3 L982 515.3 L982 533 L904 533Z" fill="#fff" stroke="none"/>
<path class="l" d="M904 515.3 L979 515.3"/>
<path class="l" d="M979 515.3 Q984 524.15 979 533"/>
<path class="h" d="M904 533 L979 533" style="stroke-width:4.8"/>
<path class="f" d="M927.4 527.5 L974.2 527.5"/>
<path d="M1000 515.3 L1083 515.3 L1083 533 L1000 533Z" fill="#fff" stroke="none"/>
<path class="l" d="M1000 515.3 L1080 515.3"/>
<path class="l" d="M1080 515.3 Q1085 524.15 1080 533"/>
<path class="h" d="M1000 533 L1080 533" style="stroke-width:4.8"/>
<path class="f" d="M1024.9 527.5 L1074.7 527.5"/>
<path d="M1098.4 515.3 L1172 515.3 L1172 533 L1098.4 533Z" fill="#fff" stroke="none"/>
<path class="l" d="M1098.4 515.3 L1172 515.3"/>
<path class="h" d="M1098.4 533 L1172 533" style="stroke-width:4.8"/>
<path class="f" d="M1120.5 527.5 L1164.6 527.5"/>
<path d="M1208 515.3 L1287 515.3 L1287 533 L1208 533Z" fill="#fff" stroke="none"/>
<path class="l" d="M1211 515.3 L1287 515.3"/>
<path class="l" d="M1211 515.3 Q1206.5 524.15 1211 533"/>
<path class="h" d="M1211 533 L1287 533" style="stroke-width:4.8"/>
<path class="f" d="M1231.7 527.5 L1279.1 527.5"/>
<path d="M839 671 L887 671 L887 685.5 L839 685.5Z" fill="#fff" stroke="none"/>
<path class="l" d="M842 671 L884 671"/>
<path class="l" d="M842 671 Q837.5 678.25 842 685.5"/>
<path class="l" d="M884 671 Q889 678.25 884 685.5"/>
<path class="h" d="M842 685.5 L884 685.5" style="stroke-width:4.8"/>
<path class="f" d="M853.4 680.0 L882.2 680.0"/>
<path d="M904 671 L982 671 L982 685.5 L904 685.5Z" fill="#fff" stroke="none"/>
<path class="l" d="M904 671 L979 671"/>
<path class="l" d="M979 671 Q984 678.25 979 685.5"/>
<path class="h" d="M904 685.5 L979 685.5" style="stroke-width:4.8"/>
<path class="f" d="M927.4 680.0 L974.2 680.0"/>
<path d="M1000 671 L1083 671 L1083 685.5 L1000 685.5Z" fill="#fff" stroke="none"/>
<path class="l" d="M1000 671 L1080 671"/>
<path class="l" d="M1080 671 Q1085 678.25 1080 685.5"/>
<path class="h" d="M1000 685.5 L1080 685.5" style="stroke-width:4.8"/>
<path class="f" d="M1024.9 680.0 L1074.7 680.0"/>
<path d="M1098.4 671 L1172 671 L1172 685.5 L1098.4 685.5Z" fill="#fff" stroke="none"/>
<path class="l" d="M1098.4 671 L1172 671"/>
<path class="h" d="M1098.4 685.5 L1172 685.5" style="stroke-width:4.8"/>
<path class="f" d="M1120.5 680.0 L1164.6 680.0"/>
<path d="M1208 671 L1287 671 L1287 685.5 L1208 685.5Z" fill="#fff" stroke="none"/>
<path class="l" d="M1211 671 L1287 671"/>
<path class="l" d="M1211 671 Q1206.5 678.25 1211 685.5"/>
<path class="h" d="M1211 685.5 L1287 685.5" style="stroke-width:4.8"/>
<path class="f" d="M1231.7 680.0 L1279.1 680.0"/>
<path d="M839 849.8 L887 849.8 L887 865.5 L839 865.5Z" fill="#fff" stroke="none"/>
<path class="l" d="M842 849.8 L884 849.8"/>
<path class="l" d="M842 849.8 Q837.5 857.65 842 865.5"/>
<path class="l" d="M884 849.8 Q889 857.65 884 865.5"/>
<path class="h" d="M842 865.5 L884 865.5" style="stroke-width:4.8"/>
<path class="f" d="M853.4 860.0 L882.2 860.0"/>
<path d="M904 849.8 L982 849.8 L982 865.5 L904 865.5Z" fill="#fff" stroke="none"/>
<path class="l" d="M904 849.8 L979 849.8"/>
<path class="l" d="M979 849.8 Q984 857.65 979 865.5"/>
<path class="h" d="M904 865.5 L979 865.5" style="stroke-width:4.8"/>
<path class="f" d="M927.4 860.0 L974.2 860.0"/>
<path d="M1000 849.8 L1083 849.8 L1083 865.5 L1000 865.5Z" fill="#fff" stroke="none"/>
<path class="l" d="M1000 849.8 L1080 849.8"/>
<path class="l" d="M1080 849.8 Q1085 857.65 1080 865.5"/>
<path class="h" d="M1000 865.5 L1080 865.5" style="stroke-width:4.8"/>
<path class="f" d="M1024.9 860.0 L1074.7 860.0"/>
<path d="M1098.4 849.8 L1172 849.8 L1172 865.5 L1098.4 865.5Z" fill="#fff" stroke="none"/>
<path class="l" d="M1098.4 849.8 L1172 849.8"/>
<path class="h" d="M1098.4 865.5 L1172 865.5" style="stroke-width:4.8"/>
<path class="f" d="M1120.5 860.0 L1164.6 860.0"/>
<path d="M1208 849.8 L1287 849.8 L1287 865.5 L1208 865.5Z" fill="#fff" stroke="none"/>
<path class="l" d="M1211 849.8 L1287 849.8"/>
<path class="l" d="M1211 849.8 Q1206.5 857.65 1211 865.5"/>
<path class="h" d="M1211 865.5 L1287 865.5" style="stroke-width:4.8"/>
<path class="f" d="M1231.7 860.0 L1279.1 860.0"/>
<path class="t" d="M817 328.2 L817 717.0"/>
<path class="l" d="M822.6 328.2 L822.6 717.0"/>
<path class="d" d="M819.8 332.2 L819.8 713.0" style="stroke-width:1.6;stroke-dasharray:6 4"/>
<path class="t" d="M836.8 328.2 L836.8 717.0"/>
<path class="t" d="M817 743.6 L817 1070.0"/>
<path class="l" d="M822.6 743.6 L822.6 1065.0"/>
<path class="d" d="M819.8 747.6 L819.8 1066.0" style="stroke-width:1.6;stroke-dasharray:6 4"/>
<path class="t" d="M836.8 743.6 L836.8 1061.0"/>
<path class="l" d="M1287.3 339.5 L1287.3 700.9"/>
<path class="h" d="M1298.1 339.5 L1298.1 700.9" style="stroke-width:3.8"/>
<path class="d" d="M1292.3 342.5 L1292.3 697.9" style="stroke-width:1.8;stroke-dasharray:6 4"/>
<path class="l" d="M1287.3 724.4 L1287.3 971.5"/>
<path class="h" d="M1298.1 724.4 L1298.1 971.5" style="stroke-width:3.8"/>
<path class="d" d="M1292.3 727.4 L1292.3 968.5" style="stroke-width:1.8;stroke-dasharray:6 4"/>
<circle cx="1286.5" cy="383" r="2.6" class="l" fill="#fff"/>
<circle cx="1288" cy="917" r="2.6" class="l" fill="#fff"/>
<path class="t" d="M817 328.2 L848.5 328.2 Q867 324 877.6 307.4 Q881 298 884.5 292.6 L1055 292.8"/>
<path class="l" d="M884 296.5 L1050 297"/>
<path class="l" d="M846 296.5 L882 297 M846 296.5 L846 422 M849.6 298 L849.6 422"/>
<path class="l" d="M846 422.6 L1101 422.6"/>
<path class="dd" d="M1074 296 L1074 420"/>
<path class="l" d="M1055 293 Q1075 294 1091 301 Q1130 303 1164 307 L1226 314.6 L1267.6 320.9 Q1276 324 1270 329.5 Q1266 331.5 1259.3 331.2"/>
<path class="t" d="M1070 296 Q1085 300 1098 304 L1143 312.6 L1205.3 321.9 L1259.3 331.2"/>
<path class="t" d="M1259.3 331.2 Q1260 338 1266 339.5 L1298.1 339.5"/>
<path class="l" d="M1259.3 332.3 L1205.3 343.7 L1184.6 346.8 L1101.5 355.1"/>
<path class="dd" d="M1101.5 361.3 L1172 367.6 L1209.5 373.8"/>
<path class="l" d="M1209.5 373.8 L1236.5 378 L1263.4 384.2 Q1277 389 1265.5 396.6 L1236.5 402.9"/>
<path class="dd" d="M1236.5 402.9 L1205.3 408 L1159.6 413.2 L1101.5 417.8"/>
<clipPath id="c31"><path d="M846.4 465.5 L849.5 448.5 Q851 436 865 424 L1101.5 424 L1122.3 440.2 L1142 460 L1144 466Z"/></clipPath>
<path d="M846.4 465.5 L849.5 448.5 Q851 436 865 424 L1101.5 424 L1122.3 440.2 L1142 460 L1144 466Z" fill="#fff" stroke="none"/>
<path class="l" clip-path="url(#c31)" d="M820.0 420 L845.0 470 M826.6 420 L851.6 470 M833.2 420 L858.2 470 M839.8 420 L864.8 470 M846.4 420 L871.4 470 M853.0 420 L878.0 470 M859.6 420 L884.6 470 M866.2 420 L891.2 470 M872.8 420 L897.8 470 M879.4 420 L904.4 470 M886.0 420 L911.0 470 M892.6 420 L917.6 470 M899.2 420 L924.2 470 M905.8 420 L930.8 470 M912.4 420 L937.4 470 M919.0 420 L944.0 470 M925.6 420 L950.6 470 M932.2 420 L957.2 470 M938.8 420 L963.8 470 M945.4 420 L970.4 470 M952.0 420 L977.0 470 M958.6 420 L983.6 470 M965.2 420 L990.2 470 M971.8 420 L996.8 470 M978.4 420 L1003.4 470 M985.0 420 L1010.0 470 M991.6 420 L1016.6 470 M998.2 420 L1023.2 470 M1004.8 420 L1029.8 470 M1011.4 420 L1036.4 470 M1018.0 420 L1043.0 470 M1024.6 420 L1049.6 470 M1031.2 420 L1056.2 470 M1037.8 420 L1062.8 470 M1044.4 420 L1069.4 470 M1051.0 420 L1076.0 470 M1057.6 420 L1082.6 470 M1064.2 420 L1089.2 470 M1070.8 420 L1095.8 470 M1077.4 420 L1102.4 470 M1084.0 420 L1109.0 470 M1090.6 420 L1115.6 470 M1097.2 420 L1122.2 470 M1103.8 420 L1128.8 470 M1110.4 420 L1135.4 470 M1117.0 420 L1142.0 470 M1123.6 420 L1148.6 470 M1130.2 420 L1155.2 470 M1136.8 420 L1161.8 470 M1143.4 420 L1168.4 470 M1150.0 420 L1175.0 470" style="stroke-width:2.7"/>
<path class="t" d="M846.4 465.5 L849.5 448.5 Q851 436 865 424 L1101.5 424 L1122.3 440.2 L1142 460 L1144 466"/>
<path class="h" d="M846.4 466 L1144 466"/>
<clipPath id="c31b"><rect x="1148.9" y="460" width="135" height="39.7"/></clipPath>
<rect x="1148.9" y="460" width="135" height="39.7" fill="#fff"/>
<path class="l" clip-path="url(#c31b)" d="M1120.0 455 L1145.0 505 M1126.6 455 L1151.6 505 M1133.2 455 L1158.2 505 M1139.8 455 L1164.8 505 M1146.4 455 L1171.4 505 M1153.0 455 L1178.0 505 M1159.6 455 L1184.6 505 M1166.2 455 L1191.2 505 M1172.8 455 L1197.8 505 M1179.4 455 L1204.4 505 M1186.0 455 L1211.0 505 M1192.6 455 L1217.6 505 M1199.2 455 L1224.2 505 M1205.8 455 L1230.8 505 M1212.4 455 L1237.4 505 M1219.0 455 L1244.0 505 M1225.6 455 L1250.6 505 M1232.2 455 L1257.2 505 M1238.8 455 L1263.8 505 M1245.4 455 L1270.4 505 M1252.0 455 L1277.0 505 M1258.6 455 L1283.6 505 M1265.2 455 L1290.2 505 M1271.8 455 L1296.8 505 M1278.4 455 L1303.4 505 M1285.0 455 L1310.0 505" style="stroke-width:2.7"/>
<path class="t" d="M1148.9 499.7 L1148.9 460 L1283.8 460 L1283.8 499.7"/>
<path class="h" d="M1148.9 499.7 L1283.8 499.7"/>
<clipPath id="c14"><rect x="827.7" y="463" width="14.5" height="61"/></clipPath>
<path class="t" clip-path="url(#c14)" d="M826 465.0 L844 455.0 M826 471.0 L844 461.0 M826 477.0 L844 467.0 M826 483.0 L844 473.0 M826 489.0 L844 479.0 M826 495.0 L844 485.0 M826 501.0 L844 491.0 M826 507.0 L844 497.0 M826 513.0 L844 503.0 M826 519.0 L844 509.0 M826 525.0 L844 515.0 M826 531.0 L844 521.0 M826 537.0 L844 527.0 M826 543.0 L844 533.0 M826 549.0 L844 539.0"/>
<path class="l" d="M827.7 463 L842.2 463 L842.2 524 L827.7 524Z"/>
<path class="t" d="M842.2 466 L848 470 L848 536 L838 536"/>
<path class="l" d="M817 463 L827 463"/>
<path d="M1142 469.5 L849.5 490.4" fill="none" stroke="#111" stroke-width="8.2" stroke-linecap="round"/>
<path d="M1142 469.5 L849.5 490.4" fill="none" stroke="#fff" stroke-width="2.4" stroke-linecap="round"/>
<path d="M849.5 490.4 L1148.2 514.3" fill="none" stroke="#111" stroke-width="8.2" stroke-linecap="round"/>
<path d="M849.5 490.4 L1148.2 514.3" fill="none" stroke="#fff" stroke-width="2.4" stroke-linecap="round"/>
<path d="M1148.2 514.3 L849.5 546.4" fill="none" stroke="#111" stroke-width="8.2" stroke-linecap="round"/>
<path d="M1148.2 514.3 L849.5 546.4" fill="none" stroke="#fff" stroke-width="2.4" stroke-linecap="round"/>
<path d="M849.5 546.4 L1149.3 573.4" fill="none" stroke="#111" stroke-width="8.2" stroke-linecap="round"/>
<path d="M849.5 546.4 L1149.3 573.4" fill="none" stroke="#fff" stroke-width="2.4" stroke-linecap="round"/>
<path d="M1149.3 573.4 L849.5 606.6" fill="none" stroke="#111" stroke-width="8.2" stroke-linecap="round"/>
<path d="M1149.3 573.4 L849.5 606.6" fill="none" stroke="#fff" stroke-width="2.4" stroke-linecap="round"/>
<path d="M849.5 606.6 L1150.3 634.7" fill="none" stroke="#111" stroke-width="8.2" stroke-linecap="round"/>
<path d="M849.5 606.6 L1150.3 634.7" fill="none" stroke="#fff" stroke-width="2.4" stroke-linecap="round"/>
<path d="M1150.3 634.7 L850.6 674" fill="none" stroke="#111" stroke-width="8.2" stroke-linecap="round"/>
<path d="M1150.3 634.7 L850.6 674" fill="none" stroke="#fff" stroke-width="2.4" stroke-linecap="round"/>
<path d="M850.6 674 L979 683" fill="none" stroke="#111" stroke-width="8.2" stroke-linecap="round"/>
<path d="M850.6 674 L979 683" fill="none" stroke="#fff" stroke-width="2.4" stroke-linecap="round"/>
<path d="M1047 770.5 L1149.3 781.3" fill="none" stroke="#111" stroke-width="8.2" stroke-linecap="round"/>
<path d="M1047 770.5 L1149.3 781.3" fill="none" stroke="#fff" stroke-width="2.4" stroke-linecap="round"/>
<path d="M1149.3 781.3 L851.6 841.5" fill="none" stroke="#111" stroke-width="8.2" stroke-linecap="round"/>
<path d="M1149.3 781.3 L851.6 841.5" fill="none" stroke="#fff" stroke-width="2.4" stroke-linecap="round"/>
<path d="M851.6 841.5 L1149.3 856" fill="none" stroke="#111" stroke-width="8.2" stroke-linecap="round"/>
<path d="M851.6 841.5 L1149.3 856" fill="none" stroke="#fff" stroke-width="2.4" stroke-linecap="round"/>
<path d="M1149.3 856 L853.7 918.4" fill="none" stroke="#111" stroke-width="8.2" stroke-linecap="round"/>
<path d="M1149.3 856 L853.7 918.4" fill="none" stroke="#fff" stroke-width="2.4" stroke-linecap="round"/>
<path d="M853.7 918.4 L1152.4 923.6" fill="none" stroke="#111" stroke-width="8.2" stroke-linecap="round"/>
<path d="M853.7 918.4 L1152.4 923.6" fill="none" stroke="#fff" stroke-width="2.4" stroke-linecap="round"/>
<path d="M1152.4 923.6 L853.7 981.7" fill="none" stroke="#111" stroke-width="8.2" stroke-linecap="round"/>
<path d="M1152.4 923.6 L853.7 981.7" fill="none" stroke="#fff" stroke-width="2.4" stroke-linecap="round"/>
<path d="M853.7 981.7 L1154.5 994" fill="none" stroke="#111" stroke-width="8.2" stroke-linecap="round"/>
<path d="M853.7 981.7 L1154.5 994" fill="none" stroke="#fff" stroke-width="2.4" stroke-linecap="round"/>
<path d="M1154.5 994 L856 1050.5" fill="none" stroke="#111" stroke-width="8.2" stroke-linecap="round"/>
<path d="M1154.5 994 L856 1050.5" fill="none" stroke="#fff" stroke-width="2.4" stroke-linecap="round"/>
<path class="l" d="M817.0 715.6 L823.0 714.4 L829.0 713.4 L835.0 713.1 L841.0 713.6 L847.0 714.5 L853.0 715.6 L859.0 716.6 L865.0 717.1 L871.0 717.0 L877.0 716.6 L883.0 716.1 L889.0 716.0 L895.0 716.3 L901.0 716.9 L907.0 717.6 L913.0 718.0 L919.0 717.9 L925.0 717.0 L931.0 715.7 L937.0 714.1 L943.0 712.8 L949.0 712.0 L955.0 711.9 L961.0 712.1 L967.0 712.6 L973.0 712.8 L979.0 712.6 L985.0 712.1 L991.0 711.4 L997.0 710.9 L1003.0 711.0 L1009.0 711.6 L1015.0 712.8 L1021.0 714.0 L1027.0 715.1 L1033.0 715.5 L1039.0 715.3 L1045.0 714.6 L1051.0 713.6 L1057.0 712.8 L1063.0 712.3 L1069.0 712.3 L1075.0 712.5 L1081.0 712.6 L1087.0 712.3 L1093.0 711.5 L1099.0 710.3 L1105.0 708.9 L1111.0 707.7 L1117.0 707.2 L1123.0 707.4 L1129.0 708.1 L1135.0 709.1 L1141.0 710.0 L1147.0 710.5 L1153.0 710.5 L1159.0 710.1 L1165.0 709.7 L1171.0 709.6 L1177.0 710.0 L1183.0 710.7 L1189.0 711.6 L1195.0 712.2 L1201.0 712.3 L1207.0 711.7 L1213.0 710.5 L1219.0 709.0 L1225.0 707.6 L1231.0 706.7 L1237.0 706.4 L1243.0 706.6 L1249.0 706.9 L1255.0 707.0 L1261.0 706.8 L1267.0 706.1 L1273.0 705.3 L1279.0 704.6 L1285.0 704.5 L1291.0 705.0 L1297.0 706.1"/>
<path class="l" d="M817.0 743.8 L823.0 744.3 L829.0 744.3 L835.0 743.8 L841.0 743.2 L847.0 742.8 L853.0 742.8 L859.0 743.3 L865.0 743.9 L871.0 744.3 L877.0 744.2 L883.0 743.5 L889.0 742.2 L895.0 740.5 L901.0 739.0 L907.0 737.9 L913.0 737.4 L919.0 737.4 L925.0 737.7 L931.0 737.9 L937.0 737.8 L943.0 737.2 L949.0 736.4 L955.0 735.7 L961.0 735.5 L967.0 735.8 L973.0 736.7 L979.0 737.8 L985.0 738.9 L991.0 739.4 L997.0 739.3 L1003.0 738.6 L1009.0 737.5 L1015.0 736.5 L1021.0 735.8 L1027.0 735.5 L1033.0 735.5 L1039.0 735.6 L1045.0 735.4 L1051.0 734.6 L1057.0 733.4 L1063.0 731.8 L1069.0 730.5 L1075.0 729.6 L1081.0 729.4 L1087.0 729.9 L1093.0 730.7 L1099.0 731.6 L1105.0 732.1 L1111.0 732.1 L1117.0 731.7 L1123.0 731.2 L1129.0 730.8 L1135.0 730.9 L1141.0 731.4 L1147.0 732.1 L1153.0 732.8 L1159.0 732.9 L1165.0 732.4 L1171.0 731.3 L1177.0 729.7 L1183.0 728.2 L1189.0 727.0 L1195.0 726.4 L1201.0 726.3 L1207.0 726.4 L1213.0 726.5 L1219.0 726.3 L1225.0 725.6 L1231.0 724.7 L1237.0 723.8 L1243.0 723.4 L1249.0 723.6 L1255.0 724.3 L1261.0 725.5 L1267.0 726.6 L1273.0 727.3 L1279.0 727.4 L1285.0 726.9 L1291.0 726.0 L1297.0 725.1"/>
<path class="t" d="M817 1070.5 L820.5 1070.5 L1294.6 977.6 Q1299 976 1298.1 971.5"/>
<path class="l" d="M822.6 1064.5 L1285 973.5 Q1288 972 1287.3 966"/>
<path class="d" d="M826 1067 L1290 976" style="stroke-width:1.7;stroke-dasharray:7 4"/>
<path class="t" d="M908.7 1052 L908.7 1058.5 L1104.7 1020 L1104.7 1013" style="stroke-width:2.3"/>
<path class="t" d="M1211.5 994 L1211.5 998.8 L1255.1 990 L1255.1 985" style="stroke-width:2.3"/>
<path class="t" d="M1209 985 Q1200 981 1193 983 Q1186 989 1189 997"/>
<path class="l" d="M1209 989 Q1200 985 1196 988"/>
</g>
</g>

<g id="leaders">
<g transform="translate(100,560) scale(0.41522)">
<path class="f" d="M318 140 C322.5 143.3 340.8 145.3 345 160 C349.2 174.7 343.3 216.7 343 228"/>
<path class="f" d="M85 585 C86.7 594.2 88.3 629.2 95 640 C101.7 650.8 116.7 651.7 125 650 C133.3 648.3 141.7 633.3 145 630"/>
<path class="f" d="M1145 680 C1144.2 688.3 1141.7 713.3 1140 730 C1138.3 746.7 1135.8 771.7 1135 780"/>
<path class="f" d="M540 930 C548.3 925.8 573.3 907.5 590 905 C606.7 902.5 631.7 913.3 640 915"/>
<path class="f" d="M1335 875 C1330.8 875.8 1319.2 870.0 1310 880 C1300.8 890.0 1285.0 925.8 1280 935"/>
<path class="f" d="M1350 415 C1346.7 420.0 1341.3 433.5 1330 445 C1318.7 456.5 1290.0 477.5 1282 484"/>
<path class="b" d="M1282 484 L1294.7 461.3 L1306.8 476.3Z"/>
</g>
<g transform="translate(100,980) scale(0.41522)">
<path class="f" d="M1315 60 C1305.8 61.7 1276.7 58.3 1260 70 C1243.3 81.7 1222.5 120.0 1215 130"/>
<path class="f" d="M315 245 C322.5 241.7 345.0 225.8 360 225 C375.0 224.2 397.5 237.5 405 240"/>
<path class="f" d="M785 258 C792.5 255.0 816.2 237.2 830 240 C843.8 242.8 861.7 269.2 868 275"/>
<path class="f" d="M690 535 C688.3 542.5 680.0 567.5 680 580 C680.0 592.5 690.0 602.5 690 610 C690.0 617.5 681.7 622.5 680 625"/>
<path class="f" d="M1140 815 C1143.3 820.8 1158.3 836.7 1160 850 C1161.7 863.3 1151.7 887.5 1150 895"/>
<path class="f" d="M80 0 C83.3 6.7 88.3 30.8 100 40 C111.7 49.2 141.7 52.5 150 55"/>
</g>
<g transform="translate(100,1240) scale(0.41522)">
<path class="f" d="M685 730 C684.2 725.0 680.0 708.3 680 700 C680.0 691.7 684.2 683.3 685 680"/>
<path class="f" d="M865 690 C866.7 684.2 870.8 664.2 875 655 C879.2 645.8 887.5 638.3 890 635"/>
<path class="f" d="M1010 670 C1010.8 663.3 1011.7 641.7 1015 630 C1018.3 618.3 1027.5 605.0 1030 600"/>
<path class="f" d="M1135 640 C1134.2 635.8 1127.5 623.3 1130 615 C1132.5 606.7 1146.7 594.2 1150 590"/>
<path class="f" d="M1420 340 L1445 352"/>
<path class="f" d="M1320 805 C1324.2 803.3 1338.3 793.3 1345 795 C1351.7 796.7 1350.8 811.2 1360 815 C1369.2 818.8 1385.5 817.2 1400 818 C1414.5 818.8 1439.2 819.7 1447 820"/>
<path class="b" d="M1447 820 L1422.5 828.6 L1423.3 809.3Z"/>
</g>
<g transform="translate(760,260) scale(0.41522)">
<path class="f" d="M300 45 C306.7 44.2 328.3 37.5 340 40 C351.7 42.5 364.2 53.7 370 60 C375.8 66.3 374.2 75.0 375 78"/>
<path class="f" d="M425 70 C424.2 83.3 416.7 120.0 420 150 C423.3 180.0 441.7 221.7 445 250 C448.3 278.3 440.8 308.3 440 320"/>
<path class="f" d="M490 30 L495 80"/>
<path class="f" d="M485 120 L488 155"/>
<path class="f" d="M1235 85 C1228.3 89.2 1205.8 97.5 1195 110 C1184.2 122.5 1174.2 151.7 1170 160"/>
<path class="f" d="M95 135 C97.5 137.5 108.3 141.7 110 150 C111.7 158.3 100.8 175.8 105 185 C109.2 194.2 130.0 201.7 135 205"/>
<path class="f" d="M90 490 C95.0 493.3 108.3 509.2 120 510 C131.7 510.8 153.3 497.5 160 495"/>
<path class="f" d="M685 350 C685.8 354.2 690.8 365.0 690 375 C689.2 385.0 681.7 404.2 680 410"/>
<path class="f" d="M1335 300 C1329.2 297.5 1310.5 285.8 1300 285 C1289.5 284.2 1276.7 293.3 1272 295"/>
<path class="f" d="M385 755 C380.0 753.3 365.8 745.8 355 745 C344.2 744.2 325.8 749.2 320 750"/>
<path class="f" d="M330 740 L330 765"/>
<path class="f" d="M635 830 C629.2 828.3 610.0 819.2 600 820 C590.0 820.8 579.2 832.5 575 835"/>
<path class="f" d="M710 830 C716.7 828.3 736.7 817.5 750 820 C763.3 822.5 783.3 840.8 790 845"/>
<path class="f" d="M870 820 C866.7 816.7 851.7 806.7 850 800 C848.3 793.3 858.3 783.3 860 780"/>
<path class="f" d="M1130 750 C1123.3 750.0 1103.3 745.8 1090 750 C1076.7 754.2 1056.7 770.8 1050 775"/>
<path class="f" d="M1195 830 C1200.8 830.0 1220.8 824.2 1230 830 C1239.2 835.8 1242.5 858.3 1250 865 C1257.5 871.7 1270.8 869.2 1275 870"/>
<path class="f" d="M1180 945 C1183.3 949.2 1198.3 959.2 1200 970 C1201.7 980.8 1191.7 1003.3 1190 1010"/>
<path class="f" d="M1295 1020 C1300.8 1015.8 1320.0 996.7 1330 995 C1340.0 993.3 1348.3 1002.5 1355 1010 C1361.7 1017.5 1367.5 1035.0 1370 1040"/>
<path class="f" d="M45 265 C48.3 269.2 60.0 279.2 65 290 C70.0 300.8 66.7 314.7 75 330 C83.3 345.3 108.3 373.3 115 382"/>
<path class="b" d="M115 382 L92.6 368.7 L107.9 357.0Z"/>
</g>
<g transform="translate(760,660) scale(0.41522)">
<path class="f" d="M78 125 C81.7 122.5 93.0 118.3 100 110 C107.0 101.7 113.3 81.7 120 75 C126.7 68.3 136.7 70.8 140 70"/>
<path class="f" d="M78 125 C82.5 130.8 100.5 145.8 105 160 C109.5 174.2 100.0 194.2 105 210 C110.0 225.8 130.0 247.5 135 255"/>
<path class="f" d="M1345 45 C1340.8 43.3 1327.5 33.3 1320 35 C1312.5 36.7 1303.3 51.7 1300 55"/>
<path class="f" d="M1335 140 C1334.2 145.8 1335.8 164.2 1330 175 C1324.2 185.8 1305.0 200.0 1300 205"/>
<path class="f" d="M330 285 C336.7 281.2 355.8 264.5 370 262 C384.2 259.5 407.5 268.7 415 270"/>
<path class="f" d="M660 300 C663.3 301.7 677.5 302.5 680 310 C682.5 317.5 675.8 339.2 675 345"/>
<path class="f" d="M1130 265 C1123.3 264.5 1103.3 258.7 1090 262 C1076.7 265.3 1056.7 281.2 1050 285"/>
<path class="f" d="M940 390 C944.2 393.3 960.8 396.7 965 410 C969.2 423.3 965.0 460.0 965 470"/>
<path class="f" d="M640 575 C635.0 573.3 619.2 563.3 610 565 C600.8 566.7 589.2 581.7 585 585"/>
<path class="f" d="M715 575 C721.7 574.2 741.7 567.5 755 570 C768.3 572.5 788.3 586.7 795 590"/>
<path class="f" d="M1350 600 C1343.3 602.5 1322.5 611.7 1310 615 C1297.5 618.3 1280.8 619.2 1275 620"/>
<path class="f" d="M1215 650 C1218.3 656.7 1233.3 673.3 1235 690 C1236.7 706.7 1226.7 740.0 1225 750"/>
<path class="f" d="M1110 690 C1100.0 690.0 1062.5 681.7 1050 690 C1037.5 698.3 1035.8 723.3 1035 740 C1034.2 756.7 1043.3 781.7 1045 790"/>
<path class="f" d="M1040 860 C1045.0 858.3 1066.7 858.3 1070 850 C1073.3 841.7 1065.0 819.2 1060 810 C1055.0 800.8 1043.3 797.5 1040 795"/>
<path class="f" d="M1100 840 C1096.7 835.0 1085.8 818.3 1080 810 C1074.2 801.7 1067.5 793.3 1065 790"/>
<path class="f" d="M1210 830 C1205.8 829.2 1188.3 830.8 1185 825 C1181.7 819.2 1189.2 800.0 1190 795"/>
<path class="f" d="M550 960 C545.8 958.3 530.0 955.0 525 950 C520.0 945.0 520.8 933.3 520 930"/>
</g>
<g transform="translate(640,1090) scale(0.41522)">
<path class="f" d="M195 95 C197.5 99.2 208.3 110.8 210 120 C211.7 129.2 205.8 145.0 205 150"/>
<path class="f" d="M345 70 C343.3 80.0 341.7 110.0 335 130 C328.3 150.0 310.0 180.0 305 190"/>
<path class="f" d="M365 70 C366.7 83.3 377.5 123.3 375 150 C372.5 176.7 349.2 210.0 350 230 C350.8 250.0 375.0 263.3 380 270"/>
<path class="f" d="M500 100 L495 135"/>
<path class="f" d="M355 355 C359.2 353.3 376.2 354.2 380 345 C383.8 335.8 381.3 306.7 378 300 C374.7 293.3 363.0 304.2 360 305"/>
<path class="f" d="M365 450 C363.3 458.3 358.3 484.2 355 500 C351.7 515.8 346.7 537.5 345 545"/>
<path class="f" d="M120 700 C125.0 703.3 140.3 719.2 150 720 C159.7 720.8 173.3 707.5 178 705"/>
<path class="f" d="M620 625 C616.7 634.2 611.7 667.5 600 680 C588.3 692.5 558.3 696.7 550 700"/>
<path class="f" d="M668 595 C673.3 597.5 693.0 597.5 700 610 C707.0 622.5 702.5 655.8 710 670 C717.5 684.2 739.2 690.8 745 695"/>
<path class="f" d="M580 800 C573.3 802.5 555.8 808.7 540 815 C524.2 821.3 494.2 834.2 485 838"/>
<path class="f" d="M475 965 C467.5 966.7 445.0 969.2 430 975 C415.0 980.8 392.5 995.8 385 1000"/>
<path class="f" d="M775 100 C773.3 105.0 765.0 120.8 765 130 C765.0 139.2 773.3 150.8 775 155"/>
<path class="f" d="M680 195 C683.3 200.0 690.0 221.7 700 225 C710.0 228.3 729.2 212.5 740 215 C750.8 217.5 760.8 235.8 765 240"/>
<path class="f" d="M920 80 C917.5 88.3 910.0 113.3 905 130 C900.0 146.7 892.5 171.7 890 180"/>
<path class="f" d="M940 75 C944.2 84.2 961.7 109.2 965 130 C968.3 150.8 955.8 181.7 960 200 C964.2 218.3 985.0 233.3 990 240"/>
<path class="f" d="M1080 100 C1082.5 104.2 1095.8 116.7 1095 125 C1094.2 133.3 1078.3 145.8 1075 150"/>
<path class="f" d="M1155 180 C1150.0 180.8 1134.2 179.2 1125 185 C1115.8 190.8 1104.2 210.0 1100 215"/>
<path class="f" d="M880 310 C885.0 311.7 903.3 315.0 910 320 C916.7 325.0 918.3 336.7 920 340"/>
<path class="f" d="M1160 455 C1153.3 458.3 1135.0 468.3 1120 475 C1105.0 481.7 1078.3 491.7 1070 495"/>
<path class="f" d="M1165 640 C1162.5 646.7 1159.2 670.0 1150 680 C1140.8 690.0 1116.7 696.7 1110 700"/>
<path class="f" d="M1220 265 C1213.3 269.2 1192.8 275.5 1180 290 C1167.2 304.5 1149.2 341.7 1143 352"/>
<path class="b" d="M1143 352 L1147.1 326.3 L1163.7 336.2Z"/>
</g>
<g transform="translate(640,1500) scale(0.41522)">
<path class="f" d="M1170 100 C1165.8 97.5 1154.2 86.7 1145 85 C1135.8 83.3 1120.0 89.2 1115 90"/>
<path class="f" d="M945 175 C950.0 177.5 971.7 183.3 975 190 C978.3 196.7 966.7 210.8 965 215"/>
<path class="f" d="M960 265 C957.5 275.8 948.3 311.7 945 330 C941.7 348.3 940.8 367.5 940 375"/>
<path class="f" d="M125 385 C130.0 387.5 149.2 390.8 155 400 C160.8 409.2 155.8 430.3 160 440 C164.2 449.7 176.7 455.0 180 458"/>
<path class="f" d="M895 460 C900.0 462.5 920.0 460.8 925 475 C930.0 489.2 925.0 533.3 925 545"/>
<path class="f" d="M1000 495 C998.3 502.5 992.5 525.0 990 540 C987.5 555.0 985.8 577.5 985 585"/>
<path class="f" d="M695 555 C700.0 555.8 716.7 554.2 725 560 C733.3 565.8 741.7 585.0 745 590"/>
<path class="f" d="M1165 550 C1160.0 551.7 1144.2 555.0 1135 560 C1125.8 565.0 1114.2 576.7 1110 580"/>
<path class="f" d="M920 645 C923.3 642.5 937.5 637.5 940 630 C942.5 622.5 935.8 605.0 935 600"/>
<path class="f" d="M700 660 C705.8 660.8 724.2 660.0 735 665 C745.8 670.0 760.0 685.8 765 690"/>
<path class="f" d="M1170 665 C1165.0 665.5 1152.5 666.3 1140 668 C1127.5 669.7 1102.5 673.8 1095 675"/>
<path class="f" d="M380 790 C376.7 787.5 362.5 780.8 360 775 C357.5 769.2 364.2 758.3 365 755"/>
<path class="f" d="M925 710 C923.3 715.0 915.8 729.2 915 740 C914.2 750.8 919.2 769.2 920 775"/>
</g>
</g>

<g id="labels" class="n">
<text x="135.0" y="335.8" font-size="26.5" textLength="22.0" lengthAdjust="spacingAndGlyphs">13</text>
<text x="115.5" y="378.5" font-size="26.5" textLength="22.0" lengthAdjust="spacingAndGlyphs">15</text>
<text x="235.0" y="326.5" font-size="26.5" textLength="20.5" lengthAdjust="spacingAndGlyphs">21</text>
<text x="459.0" y="333.0" font-size="23" textLength="15.0" lengthAdjust="spacingAndGlyphs">C</text>
<text x="537.0" y="314.0" font-size="26.5" textLength="25.0" lengthAdjust="spacingAndGlyphs">20</text>
<text x="584.0" y="327.0" font-size="26.5" textLength="31.0" lengthAdjust="spacingAndGlyphs">22</text>
<text x="625.5" y="336.8" font-size="26.5" textLength="27.0" lengthAdjust="spacingAndGlyphs">31</text>
<text x="632.5" y="371.8" font-size="26.5" textLength="27.0" lengthAdjust="spacingAndGlyphs">39</text>
<text x="657.0" y="507.5" font-size="26.5" textLength="15.0" lengthAdjust="spacingAndGlyphs">11</text>
<text x="181.0" y="540.7" font-size="26.5" textLength="23.0" lengthAdjust="spacingAndGlyphs">51</text>
<text x="266.0" y="540.7" font-size="26.5" textLength="23.0" lengthAdjust="spacingAndGlyphs">21</text>
<text x="370.0" y="530.0" font-size="26.5" textLength="31.0" lengthAdjust="spacingAndGlyphs">52</text>
<text x="428.0" y="536.5" font-size="23" textLength="16.7" lengthAdjust="spacingAndGlyphs">C</text>
<text x="465.4" y="528.0" font-size="26.5" textLength="27.0" lengthAdjust="spacingAndGlyphs">53</text>
<text x="498.7" y="538.6" font-size="26.5" textLength="29.0" lengthAdjust="spacingAndGlyphs">20</text>
<text x="546.4" y="555.0" font-size="26.5" textLength="24.9" lengthAdjust="spacingAndGlyphs">10</text>
<text x="610.8" y="532.0" font-size="26.5" textLength="29.1" lengthAdjust="spacingAndGlyphs">22</text>
<text x="207.0" y="622.3" font-size="26.5" textLength="24.0" lengthAdjust="spacingAndGlyphs">21</text>
<text x="115.8" y="798.8" font-size="26.5" textLength="23.7" lengthAdjust="spacingAndGlyphs">14</text>
<text x="122.8" y="971.0" font-size="26.5" textLength="18.7" lengthAdjust="spacingAndGlyphs">13</text>
<text x="348.0" y="830.0" font-size="26.5" textLength="24.0" lengthAdjust="spacingAndGlyphs">20</text>
<text x="561.0" y="836.0" font-size="26.5" textLength="25.7" lengthAdjust="spacingAndGlyphs">50</text>
<text x="352.5" y="967.0" font-size="26.5" textLength="27.8" lengthAdjust="spacingAndGlyphs">52</text>
<text x="561.0" y="956.6" font-size="26.5" textLength="25.0" lengthAdjust="spacingAndGlyphs">53</text>
<text x="650.0" y="730.0" font-size="26.5" textLength="25.0" lengthAdjust="spacingAndGlyphs">10</text>
<text x="652.0" y="919.0" font-size="26.5" textLength="23.0" lengthAdjust="spacingAndGlyphs">11</text>
<text x="650.0" y="1015.3" font-size="26.5" textLength="25.0" lengthAdjust="spacingAndGlyphs">50</text>
<text x="253.7" y="1106.7" font-size="26.5" textLength="22.8" lengthAdjust="spacingAndGlyphs">51</text>
<text x="448.0" y="1120.4" font-size="26.5" textLength="25.8" lengthAdjust="spacingAndGlyphs">52</text>
<text x="352.5" y="1254.0" font-size="26.5" textLength="24.9" lengthAdjust="spacingAndGlyphs">50</text>
<text x="560.0" y="1308.0" font-size="26.5" textLength="26.0" lengthAdjust="spacingAndGlyphs">50</text>
<text x="373.0" y="1566.0" font-size="26.5" textLength="24.0" lengthAdjust="spacingAndGlyphs">23</text>
<text x="451.0" y="1547.3" font-size="26.5" textLength="22.8" lengthAdjust="spacingAndGlyphs">25</text>
<text x="509.0" y="1539.0" font-size="26.5" textLength="25.0" lengthAdjust="spacingAndGlyphs">43</text>
<text x="564.3" y="1527.4" font-size="26.5" textLength="24.9" lengthAdjust="spacingAndGlyphs">24</text>
<text x="857.6" y="289.0" font-size="26.5" textLength="22.8" lengthAdjust="spacingAndGlyphs">21</text>
<text x="941.5" y="287.0" font-size="23" textLength="13.5" lengthAdjust="spacingAndGlyphs">C</text>
<text x="1275.0" y="303.6" font-size="26.5" textLength="27.0" lengthAdjust="spacingAndGlyphs">22</text>
<text x="775.8" y="325.6" font-size="26.5" textLength="23.7" lengthAdjust="spacingAndGlyphs">15</text>
<text x="757.0" y="374.2" font-size="26.5" textLength="21.7" lengthAdjust="spacingAndGlyphs">10</text>
<text x="775.8" y="462.7" font-size="26.5" textLength="23.7" lengthAdjust="spacingAndGlyphs">14</text>
<text x="1019.6" y="406.2" font-size="26.5" textLength="22.8" lengthAdjust="spacingAndGlyphs">31</text>
<text x="1308.0" y="407.4" font-size="26.5" textLength="25.0" lengthAdjust="spacingAndGlyphs">40</text>
<text x="922.0" y="584.0" font-size="26.5" textLength="20.7" lengthAdjust="spacingAndGlyphs">51</text>
<text x="1025.8" y="613.0" font-size="26.5" textLength="27.0" lengthAdjust="spacingAndGlyphs">52</text>
<text x="1123.4" y="606.8" font-size="26.5" textLength="27.0" lengthAdjust="spacingAndGlyphs">30</text>
<text x="1231.3" y="584.0" font-size="26.5" textLength="25.0" lengthAdjust="spacingAndGlyphs">53</text>
<text x="1225.0" y="615.0" font-size="26.5" textLength="27.0" lengthAdjust="spacingAndGlyphs">39</text>
<text x="1224.3" y="657.8" font-size="26.5" textLength="25.7" lengthAdjust="spacingAndGlyphs">50</text>
<text x="1318.0" y="703.0" font-size="26.5" textLength="20.0" lengthAdjust="spacingAndGlyphs">11</text>
<text x="769.0" y="721.5" font-size="26.5" textLength="22.0" lengthAdjust="spacingAndGlyphs">13</text>
<text x="925.3" y="801.2" font-size="26.5" textLength="22.4" lengthAdjust="spacingAndGlyphs">51</text>
<text x="1010.4" y="795.0" font-size="26.5" textLength="25.8" lengthAdjust="spacingAndGlyphs">30</text>
<text x="1231.3" y="782.5" font-size="26.5" textLength="25.0" lengthAdjust="spacingAndGlyphs">53</text>
<text x="1125.4" y="826.0" font-size="26.5" textLength="25.0" lengthAdjust="spacingAndGlyphs">50</text>
<text x="1029.0" y="909.0" font-size="26.5" textLength="26.7" lengthAdjust="spacingAndGlyphs">52</text>
<text x="1306.0" y="905.8" font-size="26.5" textLength="26.2" lengthAdjust="spacingAndGlyphs">40</text>
<text x="1243.8" y="935.0" font-size="26.5" textLength="20.8" lengthAdjust="spacingAndGlyphs">41</text>
<text x="1221.0" y="963.0" font-size="26.5" textLength="25.0" lengthAdjust="spacingAndGlyphs">42</text>
<text x="1169.0" y="1027.5" font-size="26.5" textLength="23.0" lengthAdjust="spacingAndGlyphs">43</text>
<text x="1216.8" y="1025.4" font-size="26.5" textLength="24.9" lengthAdjust="spacingAndGlyphs">45</text>
<text x="1263.7" y="1017.0" font-size="26.5" textLength="25.8" lengthAdjust="spacingAndGlyphs">24</text>
<text x="990.5" y="1071.0" font-size="26.5" textLength="24.9" lengthAdjust="spacingAndGlyphs">23</text>
<text x="698.0" y="1135.7" font-size="26.5" textLength="23.0" lengthAdjust="spacingAndGlyphs">21</text>
<text x="779.0" y="1117.0" font-size="23" textLength="14.7" lengthAdjust="spacingAndGlyphs">C</text>
<text x="835.0" y="1131.5" font-size="26.5" textLength="23.0" lengthAdjust="spacingAndGlyphs">21</text>
<text x="768.0" y="1250.0" font-size="26.5" textLength="21.5" lengthAdjust="spacingAndGlyphs">15</text>
<text x="777.0" y="1277.0" font-size="26.5" textLength="23.0" lengthAdjust="spacingAndGlyphs">14</text>
<text x="665.0" y="1385.0" font-size="26.5" textLength="24.0" lengthAdjust="spacingAndGlyphs">50</text>
<text x="893.3" y="1343.3" font-size="26.5" textLength="22.9" lengthAdjust="spacingAndGlyphs">50</text>
<text x="883.0" y="1434.7" font-size="26.5" textLength="22.8" lengthAdjust="spacingAndGlyphs">12</text>
<text x="829.0" y="1484.5" font-size="26.5" textLength="20.7" lengthAdjust="spacingAndGlyphs">13</text>
<text x="952.3" y="1131.5" font-size="26.5" textLength="22.0" lengthAdjust="spacingAndGlyphs">21</text>
<text x="909.0" y="1169.0" font-size="26.5" textLength="23.8" lengthAdjust="spacingAndGlyphs">22</text>
<text x="1015.8" y="1121.0" font-size="23" textLength="13.7" lengthAdjust="spacingAndGlyphs">C</text>
<text x="1069.8" y="1133.6" font-size="26.5" textLength="20.8" lengthAdjust="spacingAndGlyphs">21</text>
<text x="1121.0" y="1173.0" font-size="26.5" textLength="25.6" lengthAdjust="spacingAndGlyphs">22</text>
<text x="978.5" y="1229.0" font-size="26.5" textLength="24.9" lengthAdjust="spacingAndGlyphs">40</text>
<text x="1147.5" y="1212.5" font-size="26.5" textLength="23.2" lengthAdjust="spacingAndGlyphs">10</text>
<text x="1123.8" y="1291.4" font-size="26.5" textLength="20.8" lengthAdjust="spacingAndGlyphs">11</text>
<text x="1123.8" y="1357.0" font-size="26.5" textLength="24.9" lengthAdjust="spacingAndGlyphs">50</text>
<text x="617.0" y="1588.0" font-size="26.5" textLength="23.0" lengthAdjust="spacingAndGlyphs">10</text>
<text x="1128.0" y="1554.0" font-size="26.5" textLength="27.0" lengthAdjust="spacingAndGlyphs">50</text>
<text x="1029.5" y="1608.0" font-size="26.5" textLength="25.8" lengthAdjust="spacingAndGlyphs">40</text>
<text x="665.7" y="1671.5" font-size="26.5" textLength="24.1" lengthAdjust="spacingAndGlyphs">50</text>
<text x="984.7" y="1701.4" font-size="26.5" textLength="24.9" lengthAdjust="spacingAndGlyphs">45</text>
<text x="1051.0" y="1702.7" font-size="26.5" textLength="26.0" lengthAdjust="spacingAndGlyphs">44</text>
<text x="905.0" y="1743.0" font-size="26.5" textLength="22.4" lengthAdjust="spacingAndGlyphs">24</text>
<text x="1126.7" y="1743.0" font-size="26.5" textLength="23.3" lengthAdjust="spacingAndGlyphs">24</text>
<text x="997.0" y="1782.4" font-size="26.5" textLength="23.0" lengthAdjust="spacingAndGlyphs">43</text>
<text x="905.8" y="1787.8" font-size="26.5" textLength="22.8" lengthAdjust="spacingAndGlyphs">23</text>
<text x="1129.2" y="1790.7" font-size="26.5" textLength="23.7" lengthAdjust="spacingAndGlyphs">23</text>
<text x="797.0" y="1842.6" font-size="26.5" textLength="23.6" lengthAdjust="spacingAndGlyphs">25</text>
<text x="1009.6" y="1848.0" font-size="26.5" textLength="21.6" lengthAdjust="spacingAndGlyphs">25</text>
<text x="649.0" y="1757.5" font-size="26.5" textLength="24.0" lengthAdjust="spacingAndGlyphs">39</text>
<text x="655.8" y="1790.7" font-size="26.5" textLength="19.5" lengthAdjust="spacingAndGlyphs">11</text>
<text x="654.5" y="1859.0" font-size="26.5" textLength="20.8" lengthAdjust="spacingAndGlyphs">41</text>
<text x="201.0" y="1706.4" font-size="26.5" textLength="22.0" lengthAdjust="spacingAndGlyphs">51</text>
<text x="257.0" y="1710.6" font-size="26.5" textLength="24.0" lengthAdjust="spacingAndGlyphs">23</text>
<text x="138.7" y="1744.6" font-size="26.5" textLength="19.5" lengthAdjust="spacingAndGlyphs">13</text>
<text x="227.0" y="1785.3" font-size="26.5" textLength="25.0" lengthAdjust="spacingAndGlyphs">30</text>
<text x="387.9" y="1781.0" font-size="26.5" textLength="22.8" lengthAdjust="spacingAndGlyphs">25</text>
<text x="486.7" y="1714.7" font-size="26.5" textLength="24.5" lengthAdjust="spacingAndGlyphs">20</text>
<text x="554.0" y="1707.7" font-size="26.5" textLength="23.6" lengthAdjust="spacingAndGlyphs">53</text>
<text x="593.4" y="1719.0" font-size="26.5" textLength="22.9" lengthAdjust="spacingAndGlyphs">24</text>
<text x="458.5" y="1773.7" font-size="26.5" textLength="24.9" lengthAdjust="spacingAndGlyphs">44</text>
<text x="450.0" y="1808.0" font-size="26.5" textLength="23.8" lengthAdjust="spacingAndGlyphs">43</text>
<text x="581.0" y="1795.7" font-size="26.5" textLength="24.0" lengthAdjust="spacingAndGlyphs">45</text>
<text x="233.0" y="1929.4" font-size="26.5" textLength="22.0" lengthAdjust="spacingAndGlyphs">51</text>
<text x="356.7" y="1930.7" font-size="26.5" textLength="22.8" lengthAdjust="spacingAndGlyphs">23</text>
<text x="439.8" y="1939.0" font-size="26.5" textLength="24.1" lengthAdjust="spacingAndGlyphs">20</text>
<text x="487.5" y="1912.8" font-size="26.5" textLength="22.9" lengthAdjust="spacingAndGlyphs">42</text>
<text x="532.4" y="1936.0" font-size="26.5" textLength="23.6" lengthAdjust="spacingAndGlyphs">53</text>
<text x="589.3" y="1923.6" font-size="26.5" textLength="24.0" lengthAdjust="spacingAndGlyphs">24</text>
</g>
<path class="l" d="M347 834.5 L370 834.5 M386 1785.5 L408 1785.5"/>
<text x="113" y="482.5" font-family="'Liberation Sans',sans-serif" font-weight="bold" font-style="italic" font-size="33" textLength="27" lengthAdjust="spacingAndGlyphs" fill="#111">6</text>
<text x="641" y="480.5" font-family="'Liberation Sans',sans-serif" font-weight="bold" font-style="italic" font-size="33" textLength="27" lengthAdjust="spacingAndGlyphs" fill="#111">6</text>
<g id="titles">
<path d="M335.5 274.3 L439.6 274.3" stroke="#111" stroke-width="7.4" stroke-linecap="round" fill="none"/>
<path d="M296 327.5 L396 327.5" stroke="#111" stroke-width="7.4" stroke-linecap="round" fill="none"/>
<path d="M413.5 308.5 L396.0 331.2 L390.0 331.2 L407.5 308.5Z" fill="#111"/>
<text x="320.0" y="309.5" font-family="'Liberation Mono',monospace" font-weight="bold" font-style="italic" font-size="42.1" textLength="103.6" lengthAdjust="spacingAndGlyphs" fill="#111" stroke="#111" stroke-width="1.5">Fig.</text>
<text x="433.0" y="309.5" font-family="'Liberation Mono',monospace" font-weight="bold" font-style="italic" font-size="53.9" textLength="47.4" lengthAdjust="spacingAndGlyphs" fill="#111" stroke="#111" stroke-width="1.5">1.</text>
<path d="M318.0 299.0 L478.0 299.0" stroke="#fff" stroke-width="2.6" fill="none"/>
<path d="M330.2 580.2 L441.4 580.2" stroke="#111" stroke-width="7.4" stroke-linecap="round" fill="none"/>
<path d="M294.4 638.1 L394.2 638.1" stroke="#111" stroke-width="7.4" stroke-linecap="round" fill="none"/>
<path d="M411.3 613.5 L394.2 641.8 L388.2 641.8 L405.3 613.5Z" fill="#111"/>
<text x="316.5" y="614.5" font-family="'Liberation Mono',monospace" font-weight="bold" font-style="italic" font-size="40.9" textLength="110.5" lengthAdjust="spacingAndGlyphs" fill="#111" stroke="#111" stroke-width="1.5">Fig.</text>
<text x="437.0" y="614.5" font-family="'Liberation Mono',monospace" font-weight="bold" font-style="italic" font-size="52.4" textLength="50.5" lengthAdjust="spacingAndGlyphs" fill="#111" stroke="#111" stroke-width="1.5">2.</text>
<path d="M314.5 604.3 L485.0 604.3" stroke="#fff" stroke-width="2.6" fill="none"/>
<path d="M355.6 1655 L459 1655" stroke="#111" stroke-width="7.4" stroke-linecap="round" fill="none"/>
<path d="M318 1708.5 L420 1708.5" stroke="#111" stroke-width="7.4" stroke-linecap="round" fill="none"/>
<path d="M435.8 1685.5 L420.0 1712.2 L414.0 1712.2 L429.8 1685.5Z" fill="#111"/>
<text x="338.0" y="1686.5" font-family="'Liberation Mono',monospace" font-weight="bold" font-style="italic" font-size="37.2" textLength="106.3" lengthAdjust="spacingAndGlyphs" fill="#111" stroke="#111" stroke-width="1.5">Fig.</text>
<text x="453.8" y="1686.5" font-family="'Liberation Mono',monospace" font-weight="bold" font-style="italic" font-size="47.6" textLength="48.6" lengthAdjust="spacingAndGlyphs" fill="#111" stroke="#111" stroke-width="1.5">3.</text>
<path d="M336.0 1677.3 L500.0 1677.3" stroke="#fff" stroke-width="2.6" fill="none"/>
<path d="M728 1866.5 L826 1866.5" stroke="#111" stroke-width="7.4" stroke-linecap="round" fill="none"/>
<path d="M682.5 1921.5 L788.6 1921.5" stroke="#111" stroke-width="7.4" stroke-linecap="round" fill="none"/>
<path d="M804.8 1897.7 L788.6 1925.2 L782.6 1925.2 L798.8 1897.7Z" fill="#111"/>
<text x="710.6" y="1898.7" font-family="'Liberation Mono',monospace" font-weight="bold" font-style="italic" font-size="38.1" textLength="102.1" lengthAdjust="spacingAndGlyphs" fill="#111" stroke="#111" stroke-width="1.5">Fig.</text>
<text x="821.9" y="1898.7" font-family="'Liberation Mono',monospace" font-weight="bold" font-style="italic" font-size="48.8" textLength="46.7" lengthAdjust="spacingAndGlyphs" fill="#111" stroke="#111" stroke-width="1.5">4.</text>
<path d="M708.6 1889.2 L866.3 1889.2" stroke="#fff" stroke-width="2.6" fill="none"/>
<path d="M1163.6 1450.7 L1259 1450.7" stroke="#111" stroke-width="7.4" stroke-linecap="round" fill="none"/>
<path d="M1128 1508.8 L1211.6 1508.8" stroke="#111" stroke-width="7.4" stroke-linecap="round" fill="none"/>
<path d="M1228.3 1483.0 L1211.6 1512.5 L1205.6 1512.5 L1222.3 1483.0Z" fill="#111"/>
<text x="1149.0" y="1484.0" font-family="'Liberation Mono',monospace" font-weight="bold" font-style="italic" font-size="39.6" textLength="93.2" lengthAdjust="spacingAndGlyphs" fill="#111" stroke="#111" stroke-width="1.5">Fig.</text>
<text x="1250.5" y="1484.0" font-family="'Liberation Mono',monospace" font-weight="bold" font-style="italic" font-size="50.7" textLength="42.6" lengthAdjust="spacingAndGlyphs" fill="#111" stroke="#111" stroke-width="1.5">5.</text>
<path d="M1147.0 1474.2 L1291.0 1474.2" stroke="#fff" stroke-width="2.6" fill="none"/>
<path d="M1127.4 1039.3 L1234.5 1039.3" stroke="#111" stroke-width="7.4" stroke-linecap="round" fill="none"/>
<path d="M1081.7 1096 L1189.9 1096" stroke="#111" stroke-width="7.4" stroke-linecap="round" fill="none"/>
<path d="M1208.2 1075.2 L1189.9 1099.7 L1183.9 1099.7 L1202.2 1075.2Z" fill="#111"/>
<text x="1107.7" y="1076.2" font-family="'Liberation Mono',monospace" font-weight="bold" font-style="italic" font-size="44.4" textLength="110.4" lengthAdjust="spacingAndGlyphs" fill="#111" stroke="#111" stroke-width="1.5">Fig.</text>
<text x="1228.0" y="1076.2" font-family="'Liberation Mono',monospace" font-weight="bold" font-style="italic" font-size="56.8" textLength="50.5" lengthAdjust="spacingAndGlyphs" fill="#111" stroke="#111" stroke-width="1.5">6.</text>
<path d="M1105.7 1065.2 L1276.0 1065.2" stroke="#fff" stroke-width="2.6" fill="none"/>
</g>
<g fill="#111" font-family="'Liberation Serif',serif" stroke="#111" stroke-width="0.35">
<text x="1194" y="1843.6" font-size="28.5" textLength="139" lengthAdjust="spacingAndGlyphs">INVENTOR</text>
<text x="992.6" y="1899.7" font-size="41" font-style="italic" textLength="344" lengthAdjust="spacingAndGlyphs" stroke="#111" stroke-width="0.8">Eugene M. Stoner</text>
<text x="798" y="1995.5" font-size="27" textLength="28.5" lengthAdjust="spacingAndGlyphs">BY</text>
<text x="1190" y="2062" font-size="28.5" textLength="143" lengthAdjust="spacingAndGlyphs">ATTORNEY</text>
<text x="886" y="2001" font-size="84" font-style="italic" textLength="262" lengthAdjust="spacingAndGlyphs" stroke="#111" stroke-width="1.1" transform="translate(886,2001) skewX(-14) translate(-886,-2001)">B.G.Schlesinger</text>
</g>
<path class="l" d="M1140 1979 Q1175 1981 1200 1975 L1235 1972" style="stroke-width:1.8"/>
<path class="t" d="M1082 1985 Q1070 2010 1066 2035 Q1060 2055 1057 2040 Q1055 2015 1075 1995" style="stroke-width:2.4"/>

</svg>
</body></html>
